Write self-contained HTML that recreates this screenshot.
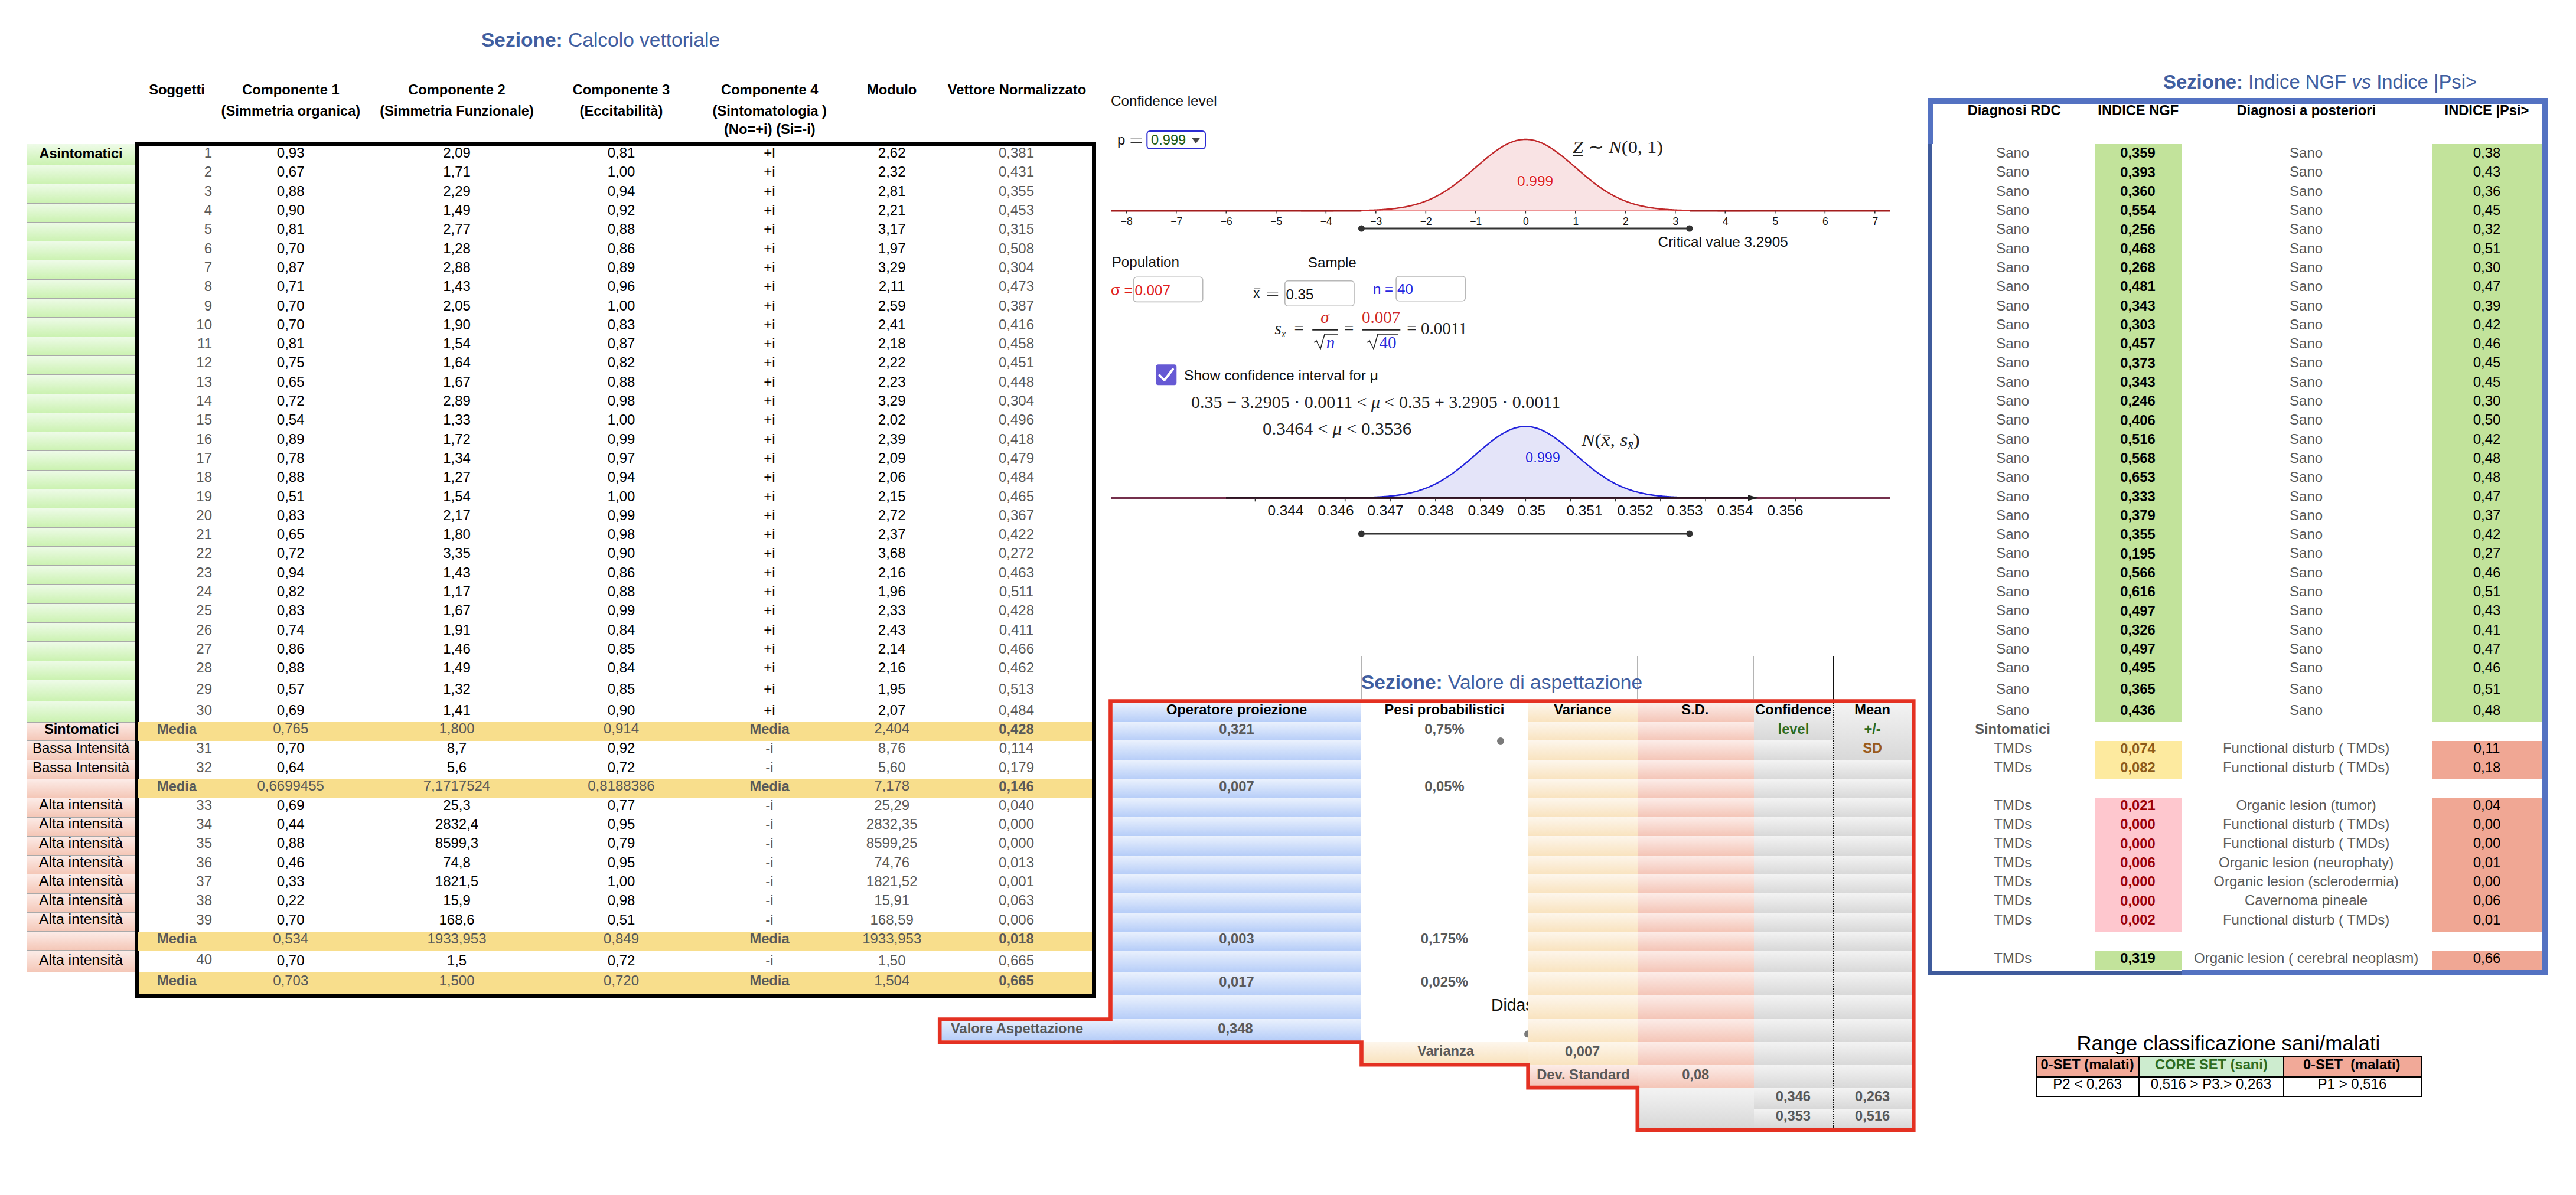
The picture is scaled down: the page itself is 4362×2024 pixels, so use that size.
<!DOCTYPE html>
<html><head><meta charset="utf-8"><style>
html,body{margin:0;padding:0;background:#fff;}
body{width:4362px;height:2024px;position:relative;overflow:hidden;font-family:'Liberation Sans', sans-serif;}
.t{position:absolute;white-space:nowrap;}
.r{position:absolute;}
svg{position:absolute;left:0;top:0;}
</style></head><body>
<div class="t" style="left:815px;top:50.5px;font-size:33.5px;line-height:33.5px;color:#405ea0;"><b>Sezione:</b> Calcolo vettoriale</div>
<div class="r" style="left:46px;top:244px;width:183px;height:35px;background:linear-gradient(to bottom,#eefbe8,#cbf2b1);"></div>
<div class="r" style="left:46px;top:279px;width:183px;height:33px;background:linear-gradient(to bottom,#eefbe8,#cbf2b1);"></div>
<div class="r" style="left:46px;top:279px;width:183px;height:1px;background:#a9a9a9;"></div>
<div class="r" style="left:46px;top:312px;width:183px;height:32px;background:linear-gradient(to bottom,#eefbe8,#cbf2b1);"></div>
<div class="r" style="left:46px;top:311px;width:183px;height:1px;background:#a9a9a9;"></div>
<div class="r" style="left:46px;top:344px;width:183px;height:32px;background:linear-gradient(to bottom,#eefbe8,#cbf2b1);"></div>
<div class="r" style="left:46px;top:344px;width:183px;height:1px;background:#a9a9a9;"></div>
<div class="r" style="left:46px;top:376px;width:183px;height:33px;background:linear-gradient(to bottom,#eefbe8,#cbf2b1);"></div>
<div class="r" style="left:46px;top:376px;width:183px;height:1px;background:#a9a9a9;"></div>
<div class="r" style="left:46px;top:409px;width:183px;height:32px;background:linear-gradient(to bottom,#eefbe8,#cbf2b1);"></div>
<div class="r" style="left:46px;top:408px;width:183px;height:1px;background:#a9a9a9;"></div>
<div class="r" style="left:46px;top:441px;width:183px;height:32px;background:linear-gradient(to bottom,#eefbe8,#cbf2b1);"></div>
<div class="r" style="left:46px;top:440px;width:183px;height:1px;background:#a9a9a9;"></div>
<div class="r" style="left:46px;top:473px;width:183px;height:32px;background:linear-gradient(to bottom,#eefbe8,#cbf2b1);"></div>
<div class="r" style="left:46px;top:473px;width:183px;height:1px;background:#a9a9a9;"></div>
<div class="r" style="left:46px;top:505px;width:183px;height:33px;background:linear-gradient(to bottom,#eefbe8,#cbf2b1);"></div>
<div class="r" style="left:46px;top:505px;width:183px;height:1px;background:#a9a9a9;"></div>
<div class="r" style="left:46px;top:538px;width:183px;height:32px;background:linear-gradient(to bottom,#eefbe8,#cbf2b1);"></div>
<div class="r" style="left:46px;top:537px;width:183px;height:1px;background:#a9a9a9;"></div>
<div class="r" style="left:46px;top:570px;width:183px;height:32px;background:linear-gradient(to bottom,#eefbe8,#cbf2b1);"></div>
<div class="r" style="left:46px;top:570px;width:183px;height:1px;background:#a9a9a9;"></div>
<div class="r" style="left:46px;top:602px;width:183px;height:33px;background:linear-gradient(to bottom,#eefbe8,#cbf2b1);"></div>
<div class="r" style="left:46px;top:602px;width:183px;height:1px;background:#a9a9a9;"></div>
<div class="r" style="left:46px;top:635px;width:183px;height:32px;background:linear-gradient(to bottom,#eefbe8,#cbf2b1);"></div>
<div class="r" style="left:46px;top:634px;width:183px;height:1px;background:#a9a9a9;"></div>
<div class="r" style="left:46px;top:667px;width:183px;height:32px;background:linear-gradient(to bottom,#eefbe8,#cbf2b1);"></div>
<div class="r" style="left:46px;top:667px;width:183px;height:1px;background:#a9a9a9;"></div>
<div class="r" style="left:46px;top:699px;width:183px;height:33px;background:linear-gradient(to bottom,#eefbe8,#cbf2b1);"></div>
<div class="r" style="left:46px;top:699px;width:183px;height:1px;background:#a9a9a9;"></div>
<div class="r" style="left:46px;top:732px;width:183px;height:32px;background:linear-gradient(to bottom,#eefbe8,#cbf2b1);"></div>
<div class="r" style="left:46px;top:731px;width:183px;height:1px;background:#a9a9a9;"></div>
<div class="r" style="left:46px;top:764px;width:183px;height:32px;background:linear-gradient(to bottom,#eefbe8,#cbf2b1);"></div>
<div class="r" style="left:46px;top:763px;width:183px;height:1px;background:#a9a9a9;"></div>
<div class="r" style="left:46px;top:796px;width:183px;height:32px;background:linear-gradient(to bottom,#eefbe8,#cbf2b1);"></div>
<div class="r" style="left:46px;top:796px;width:183px;height:1px;background:#a9a9a9;"></div>
<div class="r" style="left:46px;top:828px;width:183px;height:33px;background:linear-gradient(to bottom,#eefbe8,#cbf2b1);"></div>
<div class="r" style="left:46px;top:828px;width:183px;height:1px;background:#a9a9a9;"></div>
<div class="r" style="left:46px;top:861px;width:183px;height:32px;background:linear-gradient(to bottom,#eefbe8,#cbf2b1);"></div>
<div class="r" style="left:46px;top:860px;width:183px;height:1px;background:#a9a9a9;"></div>
<div class="r" style="left:46px;top:893px;width:183px;height:32px;background:linear-gradient(to bottom,#eefbe8,#cbf2b1);"></div>
<div class="r" style="left:46px;top:893px;width:183px;height:1px;background:#a9a9a9;"></div>
<div class="r" style="left:46px;top:925px;width:183px;height:33px;background:linear-gradient(to bottom,#eefbe8,#cbf2b1);"></div>
<div class="r" style="left:46px;top:925px;width:183px;height:1px;background:#a9a9a9;"></div>
<div class="r" style="left:46px;top:958px;width:183px;height:32px;background:linear-gradient(to bottom,#eefbe8,#cbf2b1);"></div>
<div class="r" style="left:46px;top:957px;width:183px;height:1px;background:#a9a9a9;"></div>
<div class="r" style="left:46px;top:990px;width:183px;height:32px;background:linear-gradient(to bottom,#eefbe8,#cbf2b1);"></div>
<div class="r" style="left:46px;top:989px;width:183px;height:1px;background:#a9a9a9;"></div>
<div class="r" style="left:46px;top:1022px;width:183px;height:33px;background:linear-gradient(to bottom,#eefbe8,#cbf2b1);"></div>
<div class="r" style="left:46px;top:1022px;width:183px;height:1px;background:#a9a9a9;"></div>
<div class="r" style="left:46px;top:1055px;width:183px;height:32px;background:linear-gradient(to bottom,#eefbe8,#cbf2b1);"></div>
<div class="r" style="left:46px;top:1054px;width:183px;height:1px;background:#a9a9a9;"></div>
<div class="r" style="left:46px;top:1087px;width:183px;height:32px;background:linear-gradient(to bottom,#eefbe8,#cbf2b1);"></div>
<div class="r" style="left:46px;top:1086px;width:183px;height:1px;background:#a9a9a9;"></div>
<div class="r" style="left:46px;top:1119px;width:183px;height:32px;background:linear-gradient(to bottom,#eefbe8,#cbf2b1);"></div>
<div class="r" style="left:46px;top:1119px;width:183px;height:1px;background:#a9a9a9;"></div>
<div class="r" style="left:46px;top:1152px;width:183px;height:35px;background:linear-gradient(to bottom,#eefbe8,#cbf2b1);"></div>
<div class="r" style="left:46px;top:1151px;width:183px;height:1px;background:#a9a9a9;"></div>
<div class="r" style="left:46px;top:1187px;width:183px;height:36px;background:linear-gradient(to bottom,#eefbe8,#cbf2b1);"></div>
<div class="r" style="left:46px;top:1187px;width:183px;height:1px;background:#a9a9a9;"></div>
<div class="r" style="left:46px;top:1223px;width:187px;height:32px;background:linear-gradient(to bottom,#fcece8,#f4c6b6);"></div>
<div class="r" style="left:46px;top:1223px;width:187px;height:1px;background:#a9a9a9;"></div>
<div class="r" style="left:46px;top:1254px;width:183px;height:34px;background:linear-gradient(to bottom,#fcece8,#f4c6b6);"></div>
<div class="r" style="left:46px;top:1254px;width:183px;height:1px;background:#a9a9a9;"></div>
<div class="r" style="left:46px;top:1288px;width:183px;height:32px;background:linear-gradient(to bottom,#fcece8,#f4c6b6);"></div>
<div class="r" style="left:46px;top:1287px;width:183px;height:1px;background:#a9a9a9;"></div>
<div class="r" style="left:46px;top:1320px;width:187px;height:32px;background:linear-gradient(to bottom,#fcece8,#f4c6b6);"></div>
<div class="r" style="left:46px;top:1319px;width:187px;height:1px;background:#a9a9a9;"></div>
<div class="r" style="left:46px;top:1352px;width:183px;height:32px;background:linear-gradient(to bottom,#fcece8,#f4c6b6);"></div>
<div class="r" style="left:46px;top:1351px;width:183px;height:1px;background:#a9a9a9;"></div>
<div class="r" style="left:46px;top:1384px;width:183px;height:32px;background:linear-gradient(to bottom,#fcece8,#f4c6b6);"></div>
<div class="r" style="left:46px;top:1384px;width:183px;height:1px;background:#a9a9a9;"></div>
<div class="r" style="left:46px;top:1416px;width:183px;height:33px;background:linear-gradient(to bottom,#fcece8,#f4c6b6);"></div>
<div class="r" style="left:46px;top:1416px;width:183px;height:1px;background:#a9a9a9;"></div>
<div class="r" style="left:46px;top:1449px;width:183px;height:32px;background:linear-gradient(to bottom,#fcece8,#f4c6b6);"></div>
<div class="r" style="left:46px;top:1448px;width:183px;height:1px;background:#a9a9a9;"></div>
<div class="r" style="left:46px;top:1481px;width:183px;height:32px;background:linear-gradient(to bottom,#fcece8,#f4c6b6);"></div>
<div class="r" style="left:46px;top:1480px;width:183px;height:1px;background:#a9a9a9;"></div>
<div class="r" style="left:46px;top:1513px;width:183px;height:33px;background:linear-gradient(to bottom,#fcece8,#f4c6b6);"></div>
<div class="r" style="left:46px;top:1513px;width:183px;height:1px;background:#a9a9a9;"></div>
<div class="r" style="left:46px;top:1546px;width:183px;height:32px;background:linear-gradient(to bottom,#fcece8,#f4c6b6);"></div>
<div class="r" style="left:46px;top:1545px;width:183px;height:1px;background:#a9a9a9;"></div>
<div class="r" style="left:46px;top:1578px;width:187px;height:32px;background:linear-gradient(to bottom,#fcece8,#f4c6b6);"></div>
<div class="r" style="left:46px;top:1577px;width:187px;height:1px;background:#a9a9a9;"></div>
<div class="r" style="left:46px;top:1610px;width:183px;height:37px;background:linear-gradient(to bottom,#fcece8,#f4c6b6);"></div>
<div class="r" style="left:46px;top:1609px;width:183px;height:1px;background:#a9a9a9;"></div>
<div class="t" style="left:-463.0px;top:248.5px;width:1200px;font-size:23.5px;line-height:23.5px;text-align:center;color:#000;font-weight:bold;">Asintomatici</div>
<div class="t" style="left:-461.5px;top:1223.7px;width:1200px;font-size:23.5px;line-height:23.5px;text-align:center;color:#000;font-weight:bold;">Sintomatici</div>
<div class="t" style="left:-463.0px;top:1255.4px;width:1200px;font-size:24px;line-height:24px;text-align:center;color:#000;">Bassa Intensità</div>
<div class="t" style="left:-463.0px;top:1287.5px;width:1200px;font-size:24px;line-height:24px;text-align:center;color:#000;">Bassa Intensità</div>
<div class="t" style="left:-463.0px;top:1351.1px;width:1200px;font-size:24.8px;line-height:24.8px;text-align:center;color:#000;">Alta intensità</div>
<div class="t" style="left:-463.0px;top:1383.4px;width:1200px;font-size:24.8px;line-height:24.8px;text-align:center;color:#000;">Alta intensità</div>
<div class="t" style="left:-463.0px;top:1415.7px;width:1200px;font-size:24.8px;line-height:24.8px;text-align:center;color:#000;">Alta intensità</div>
<div class="t" style="left:-463.0px;top:1448.0px;width:1200px;font-size:24.8px;line-height:24.8px;text-align:center;color:#000;">Alta intensità</div>
<div class="t" style="left:-463.0px;top:1480.3px;width:1200px;font-size:24.8px;line-height:24.8px;text-align:center;color:#000;">Alta intensità</div>
<div class="t" style="left:-463.0px;top:1512.6px;width:1200px;font-size:24.8px;line-height:24.8px;text-align:center;color:#000;">Alta intensità</div>
<div class="t" style="left:-463.0px;top:1544.9px;width:1200px;font-size:24.8px;line-height:24.8px;text-align:center;color:#000;">Alta intensità</div>
<div class="t" style="left:-463.0px;top:1613.8px;width:1200px;font-size:24.8px;line-height:24.8px;text-align:center;color:#000;">Alta intensità</div>
<div class="r" style="left:233px;top:1223px;width:1617px;height:32px;background:#f8de8c;"></div>
<div class="r" style="left:233px;top:1320px;width:1617px;height:32px;background:#f8de8c;"></div>
<div class="r" style="left:233px;top:1578px;width:1617px;height:32px;background:#f8de8c;"></div>
<div class="r" style="left:236px;top:1647px;width:1613px;height:37px;background:#f8de8c;"></div>
<div class="r" style="left:229px;top:240px;width:1627px;height:1451px;box-sizing:border-box;border:7px solid #000;background:transparent;"></div>
<div class="r" style="left:233px;top:1223px;width:3px;height:32px;background:#f8de8c;"></div>
<div class="r" style="left:233px;top:1320px;width:3px;height:32px;background:#f8de8c;"></div>
<div class="r" style="left:233px;top:1578px;width:3px;height:32px;background:#f8de8c;"></div>
<div class="t" style="left:-300.5px;top:141.1px;width:1200px;font-size:23.7px;line-height:23.7px;text-align:center;color:#000;font-weight:bold;">Soggetti</div>
<div class="t" style="left:-107.6px;top:141.1px;width:1200px;font-size:23.7px;line-height:23.7px;text-align:center;color:#000;font-weight:bold;">Componente 1</div>
<div class="t" style="left:-107.6px;top:176.7px;width:1200px;font-size:23.7px;line-height:23.7px;text-align:center;color:#000;font-weight:bold;">(Simmetria organica)</div>
<div class="t" style="left:173.5px;top:141.1px;width:1200px;font-size:23.7px;line-height:23.7px;text-align:center;color:#000;font-weight:bold;">Componente 2</div>
<div class="t" style="left:173.5px;top:176.7px;width:1200px;font-size:23.7px;line-height:23.7px;text-align:center;color:#000;font-weight:bold;">(Simmetria Funzionale)</div>
<div class="t" style="left:452.0px;top:141.1px;width:1200px;font-size:23.7px;line-height:23.7px;text-align:center;color:#000;font-weight:bold;">Componente 3</div>
<div class="t" style="left:452.0px;top:176.7px;width:1200px;font-size:23.7px;line-height:23.7px;text-align:center;color:#000;font-weight:bold;">(Eccitabilità)</div>
<div class="t" style="left:703.3px;top:141.1px;width:1200px;font-size:23.7px;line-height:23.7px;text-align:center;color:#000;font-weight:bold;">Componente 4</div>
<div class="t" style="left:703.3px;top:176.7px;width:1200px;font-size:23.7px;line-height:23.7px;text-align:center;color:#000;font-weight:bold;">(Sintomatologia )</div>
<div class="t" style="left:703.3px;top:208.0px;width:1200px;font-size:23.7px;line-height:23.7px;text-align:center;color:#000;font-weight:bold;">(No=+i) (Si=-i)</div>
<div class="t" style="left:910.2px;top:141.1px;width:1200px;font-size:23.7px;line-height:23.7px;text-align:center;color:#000;font-weight:bold;">Modulo</div>
<div class="t" style="left:1122.0px;top:141.1px;width:1200px;font-size:23.7px;line-height:23.7px;text-align:center;color:#000;font-weight:bold;">Vettore Normalizzato</div>
<div class="t" style="left:-841.0px;top:247.1px;width:1200px;font-size:24px;line-height:24px;text-align:right;color:#595959;">1</div>
<div class="t" style="left:-107.8px;top:247.1px;width:1200px;font-size:24px;line-height:24px;text-align:center;color:#000;">0,93</div>
<div class="t" style="left:173.5px;top:247.1px;width:1200px;font-size:24px;line-height:24px;text-align:center;color:#000;">2,09</div>
<div class="t" style="left:452.0px;top:247.1px;width:1200px;font-size:24px;line-height:24px;text-align:center;color:#000;">0,81</div>
<div class="t" style="left:703.0px;top:247.1px;width:1200px;font-size:24px;line-height:24px;text-align:center;color:#000;">+l</div>
<div class="t" style="left:910.2px;top:247.1px;width:1200px;font-size:24px;line-height:24px;text-align:center;color:#000;">2,62</div>
<div class="t" style="left:1121.0px;top:247.1px;width:1200px;font-size:24px;line-height:24px;text-align:center;color:#595959;">0,381</div>
<div class="t" style="left:-841.0px;top:279.4px;width:1200px;font-size:24px;line-height:24px;text-align:right;color:#595959;">2</div>
<div class="t" style="left:-107.8px;top:279.4px;width:1200px;font-size:24px;line-height:24px;text-align:center;color:#000;">0,67</div>
<div class="t" style="left:173.5px;top:279.4px;width:1200px;font-size:24px;line-height:24px;text-align:center;color:#000;">1,71</div>
<div class="t" style="left:452.0px;top:279.4px;width:1200px;font-size:24px;line-height:24px;text-align:center;color:#000;">1,00</div>
<div class="t" style="left:703.0px;top:279.4px;width:1200px;font-size:24px;line-height:24px;text-align:center;color:#000;">+i</div>
<div class="t" style="left:910.2px;top:279.4px;width:1200px;font-size:24px;line-height:24px;text-align:center;color:#000;">2,32</div>
<div class="t" style="left:1121.0px;top:279.4px;width:1200px;font-size:24px;line-height:24px;text-align:center;color:#595959;">0,431</div>
<div class="t" style="left:-841.0px;top:311.7px;width:1200px;font-size:24px;line-height:24px;text-align:right;color:#595959;">3</div>
<div class="t" style="left:-107.8px;top:311.7px;width:1200px;font-size:24px;line-height:24px;text-align:center;color:#000;">0,88</div>
<div class="t" style="left:173.5px;top:311.7px;width:1200px;font-size:24px;line-height:24px;text-align:center;color:#000;">2,29</div>
<div class="t" style="left:452.0px;top:311.7px;width:1200px;font-size:24px;line-height:24px;text-align:center;color:#000;">0,94</div>
<div class="t" style="left:703.0px;top:311.7px;width:1200px;font-size:24px;line-height:24px;text-align:center;color:#000;">+i</div>
<div class="t" style="left:910.2px;top:311.7px;width:1200px;font-size:24px;line-height:24px;text-align:center;color:#000;">2,81</div>
<div class="t" style="left:1121.0px;top:311.7px;width:1200px;font-size:24px;line-height:24px;text-align:center;color:#595959;">0,355</div>
<div class="t" style="left:-841.0px;top:344.0px;width:1200px;font-size:24px;line-height:24px;text-align:right;color:#595959;">4</div>
<div class="t" style="left:-107.8px;top:344.0px;width:1200px;font-size:24px;line-height:24px;text-align:center;color:#000;">0,90</div>
<div class="t" style="left:173.5px;top:344.0px;width:1200px;font-size:24px;line-height:24px;text-align:center;color:#000;">1,49</div>
<div class="t" style="left:452.0px;top:344.0px;width:1200px;font-size:24px;line-height:24px;text-align:center;color:#000;">0,92</div>
<div class="t" style="left:703.0px;top:344.0px;width:1200px;font-size:24px;line-height:24px;text-align:center;color:#000;">+i</div>
<div class="t" style="left:910.2px;top:344.0px;width:1200px;font-size:24px;line-height:24px;text-align:center;color:#000;">2,21</div>
<div class="t" style="left:1121.0px;top:344.0px;width:1200px;font-size:24px;line-height:24px;text-align:center;color:#595959;">0,453</div>
<div class="t" style="left:-841.0px;top:376.3px;width:1200px;font-size:24px;line-height:24px;text-align:right;color:#595959;">5</div>
<div class="t" style="left:-107.8px;top:376.3px;width:1200px;font-size:24px;line-height:24px;text-align:center;color:#000;">0,81</div>
<div class="t" style="left:173.5px;top:376.3px;width:1200px;font-size:24px;line-height:24px;text-align:center;color:#000;">2,77</div>
<div class="t" style="left:452.0px;top:376.3px;width:1200px;font-size:24px;line-height:24px;text-align:center;color:#000;">0,88</div>
<div class="t" style="left:703.0px;top:376.3px;width:1200px;font-size:24px;line-height:24px;text-align:center;color:#000;">+i</div>
<div class="t" style="left:910.2px;top:376.3px;width:1200px;font-size:24px;line-height:24px;text-align:center;color:#000;">3,17</div>
<div class="t" style="left:1121.0px;top:376.3px;width:1200px;font-size:24px;line-height:24px;text-align:center;color:#595959;">0,315</div>
<div class="t" style="left:-841.0px;top:408.6px;width:1200px;font-size:24px;line-height:24px;text-align:right;color:#595959;">6</div>
<div class="t" style="left:-107.8px;top:408.6px;width:1200px;font-size:24px;line-height:24px;text-align:center;color:#000;">0,70</div>
<div class="t" style="left:173.5px;top:408.6px;width:1200px;font-size:24px;line-height:24px;text-align:center;color:#000;">1,28</div>
<div class="t" style="left:452.0px;top:408.6px;width:1200px;font-size:24px;line-height:24px;text-align:center;color:#000;">0,86</div>
<div class="t" style="left:703.0px;top:408.6px;width:1200px;font-size:24px;line-height:24px;text-align:center;color:#000;">+i</div>
<div class="t" style="left:910.2px;top:408.6px;width:1200px;font-size:24px;line-height:24px;text-align:center;color:#000;">1,97</div>
<div class="t" style="left:1121.0px;top:408.6px;width:1200px;font-size:24px;line-height:24px;text-align:center;color:#595959;">0,508</div>
<div class="t" style="left:-841.0px;top:440.9px;width:1200px;font-size:24px;line-height:24px;text-align:right;color:#595959;">7</div>
<div class="t" style="left:-107.8px;top:440.9px;width:1200px;font-size:24px;line-height:24px;text-align:center;color:#000;">0,87</div>
<div class="t" style="left:173.5px;top:440.9px;width:1200px;font-size:24px;line-height:24px;text-align:center;color:#000;">2,88</div>
<div class="t" style="left:452.0px;top:440.9px;width:1200px;font-size:24px;line-height:24px;text-align:center;color:#000;">0,89</div>
<div class="t" style="left:703.0px;top:440.9px;width:1200px;font-size:24px;line-height:24px;text-align:center;color:#000;">+i</div>
<div class="t" style="left:910.2px;top:440.9px;width:1200px;font-size:24px;line-height:24px;text-align:center;color:#000;">3,29</div>
<div class="t" style="left:1121.0px;top:440.9px;width:1200px;font-size:24px;line-height:24px;text-align:center;color:#595959;">0,304</div>
<div class="t" style="left:-841.0px;top:473.2px;width:1200px;font-size:24px;line-height:24px;text-align:right;color:#595959;">8</div>
<div class="t" style="left:-107.8px;top:473.2px;width:1200px;font-size:24px;line-height:24px;text-align:center;color:#000;">0,71</div>
<div class="t" style="left:173.5px;top:473.2px;width:1200px;font-size:24px;line-height:24px;text-align:center;color:#000;">1,43</div>
<div class="t" style="left:452.0px;top:473.2px;width:1200px;font-size:24px;line-height:24px;text-align:center;color:#000;">0,96</div>
<div class="t" style="left:703.0px;top:473.2px;width:1200px;font-size:24px;line-height:24px;text-align:center;color:#000;">+i</div>
<div class="t" style="left:910.2px;top:473.2px;width:1200px;font-size:24px;line-height:24px;text-align:center;color:#000;">2,11</div>
<div class="t" style="left:1121.0px;top:473.2px;width:1200px;font-size:24px;line-height:24px;text-align:center;color:#595959;">0,473</div>
<div class="t" style="left:-841.0px;top:505.5px;width:1200px;font-size:24px;line-height:24px;text-align:right;color:#595959;">9</div>
<div class="t" style="left:-107.8px;top:505.5px;width:1200px;font-size:24px;line-height:24px;text-align:center;color:#000;">0,70</div>
<div class="t" style="left:173.5px;top:505.5px;width:1200px;font-size:24px;line-height:24px;text-align:center;color:#000;">2,05</div>
<div class="t" style="left:452.0px;top:505.5px;width:1200px;font-size:24px;line-height:24px;text-align:center;color:#000;">1,00</div>
<div class="t" style="left:703.0px;top:505.5px;width:1200px;font-size:24px;line-height:24px;text-align:center;color:#000;">+i</div>
<div class="t" style="left:910.2px;top:505.5px;width:1200px;font-size:24px;line-height:24px;text-align:center;color:#000;">2,59</div>
<div class="t" style="left:1121.0px;top:505.5px;width:1200px;font-size:24px;line-height:24px;text-align:center;color:#595959;">0,387</div>
<div class="t" style="left:-841.0px;top:537.8px;width:1200px;font-size:24px;line-height:24px;text-align:right;color:#595959;">10</div>
<div class="t" style="left:-107.8px;top:537.8px;width:1200px;font-size:24px;line-height:24px;text-align:center;color:#000;">0,70</div>
<div class="t" style="left:173.5px;top:537.8px;width:1200px;font-size:24px;line-height:24px;text-align:center;color:#000;">1,90</div>
<div class="t" style="left:452.0px;top:537.8px;width:1200px;font-size:24px;line-height:24px;text-align:center;color:#000;">0,83</div>
<div class="t" style="left:703.0px;top:537.8px;width:1200px;font-size:24px;line-height:24px;text-align:center;color:#000;">+i</div>
<div class="t" style="left:910.2px;top:537.8px;width:1200px;font-size:24px;line-height:24px;text-align:center;color:#000;">2,41</div>
<div class="t" style="left:1121.0px;top:537.8px;width:1200px;font-size:24px;line-height:24px;text-align:center;color:#595959;">0,416</div>
<div class="t" style="left:-841.0px;top:570.1px;width:1200px;font-size:24px;line-height:24px;text-align:right;color:#595959;">11</div>
<div class="t" style="left:-107.8px;top:570.1px;width:1200px;font-size:24px;line-height:24px;text-align:center;color:#000;">0,81</div>
<div class="t" style="left:173.5px;top:570.1px;width:1200px;font-size:24px;line-height:24px;text-align:center;color:#000;">1,54</div>
<div class="t" style="left:452.0px;top:570.1px;width:1200px;font-size:24px;line-height:24px;text-align:center;color:#000;">0,87</div>
<div class="t" style="left:703.0px;top:570.1px;width:1200px;font-size:24px;line-height:24px;text-align:center;color:#000;">+i</div>
<div class="t" style="left:910.2px;top:570.1px;width:1200px;font-size:24px;line-height:24px;text-align:center;color:#000;">2,18</div>
<div class="t" style="left:1121.0px;top:570.1px;width:1200px;font-size:24px;line-height:24px;text-align:center;color:#595959;">0,458</div>
<div class="t" style="left:-841.0px;top:602.4px;width:1200px;font-size:24px;line-height:24px;text-align:right;color:#595959;">12</div>
<div class="t" style="left:-107.8px;top:602.4px;width:1200px;font-size:24px;line-height:24px;text-align:center;color:#000;">0,75</div>
<div class="t" style="left:173.5px;top:602.4px;width:1200px;font-size:24px;line-height:24px;text-align:center;color:#000;">1,64</div>
<div class="t" style="left:452.0px;top:602.4px;width:1200px;font-size:24px;line-height:24px;text-align:center;color:#000;">0,82</div>
<div class="t" style="left:703.0px;top:602.4px;width:1200px;font-size:24px;line-height:24px;text-align:center;color:#000;">+i</div>
<div class="t" style="left:910.2px;top:602.4px;width:1200px;font-size:24px;line-height:24px;text-align:center;color:#000;">2,22</div>
<div class="t" style="left:1121.0px;top:602.4px;width:1200px;font-size:24px;line-height:24px;text-align:center;color:#595959;">0,451</div>
<div class="t" style="left:-841.0px;top:634.7px;width:1200px;font-size:24px;line-height:24px;text-align:right;color:#595959;">13</div>
<div class="t" style="left:-107.8px;top:634.7px;width:1200px;font-size:24px;line-height:24px;text-align:center;color:#000;">0,65</div>
<div class="t" style="left:173.5px;top:634.7px;width:1200px;font-size:24px;line-height:24px;text-align:center;color:#000;">1,67</div>
<div class="t" style="left:452.0px;top:634.7px;width:1200px;font-size:24px;line-height:24px;text-align:center;color:#000;">0,88</div>
<div class="t" style="left:703.0px;top:634.7px;width:1200px;font-size:24px;line-height:24px;text-align:center;color:#000;">+i</div>
<div class="t" style="left:910.2px;top:634.7px;width:1200px;font-size:24px;line-height:24px;text-align:center;color:#000;">2,23</div>
<div class="t" style="left:1121.0px;top:634.7px;width:1200px;font-size:24px;line-height:24px;text-align:center;color:#595959;">0,448</div>
<div class="t" style="left:-841.0px;top:667.0px;width:1200px;font-size:24px;line-height:24px;text-align:right;color:#595959;">14</div>
<div class="t" style="left:-107.8px;top:667.0px;width:1200px;font-size:24px;line-height:24px;text-align:center;color:#000;">0,72</div>
<div class="t" style="left:173.5px;top:667.0px;width:1200px;font-size:24px;line-height:24px;text-align:center;color:#000;">2,89</div>
<div class="t" style="left:452.0px;top:667.0px;width:1200px;font-size:24px;line-height:24px;text-align:center;color:#000;">0,98</div>
<div class="t" style="left:703.0px;top:667.0px;width:1200px;font-size:24px;line-height:24px;text-align:center;color:#000;">+i</div>
<div class="t" style="left:910.2px;top:667.0px;width:1200px;font-size:24px;line-height:24px;text-align:center;color:#000;">3,29</div>
<div class="t" style="left:1121.0px;top:667.0px;width:1200px;font-size:24px;line-height:24px;text-align:center;color:#595959;">0,304</div>
<div class="t" style="left:-841.0px;top:699.3px;width:1200px;font-size:24px;line-height:24px;text-align:right;color:#595959;">15</div>
<div class="t" style="left:-107.8px;top:699.3px;width:1200px;font-size:24px;line-height:24px;text-align:center;color:#000;">0,54</div>
<div class="t" style="left:173.5px;top:699.3px;width:1200px;font-size:24px;line-height:24px;text-align:center;color:#000;">1,33</div>
<div class="t" style="left:452.0px;top:699.3px;width:1200px;font-size:24px;line-height:24px;text-align:center;color:#000;">1,00</div>
<div class="t" style="left:703.0px;top:699.3px;width:1200px;font-size:24px;line-height:24px;text-align:center;color:#000;">+i</div>
<div class="t" style="left:910.2px;top:699.3px;width:1200px;font-size:24px;line-height:24px;text-align:center;color:#000;">2,02</div>
<div class="t" style="left:1121.0px;top:699.3px;width:1200px;font-size:24px;line-height:24px;text-align:center;color:#595959;">0,496</div>
<div class="t" style="left:-841.0px;top:731.6px;width:1200px;font-size:24px;line-height:24px;text-align:right;color:#595959;">16</div>
<div class="t" style="left:-107.8px;top:731.6px;width:1200px;font-size:24px;line-height:24px;text-align:center;color:#000;">0,89</div>
<div class="t" style="left:173.5px;top:731.6px;width:1200px;font-size:24px;line-height:24px;text-align:center;color:#000;">1,72</div>
<div class="t" style="left:452.0px;top:731.6px;width:1200px;font-size:24px;line-height:24px;text-align:center;color:#000;">0,99</div>
<div class="t" style="left:703.0px;top:731.6px;width:1200px;font-size:24px;line-height:24px;text-align:center;color:#000;">+i</div>
<div class="t" style="left:910.2px;top:731.6px;width:1200px;font-size:24px;line-height:24px;text-align:center;color:#000;">2,39</div>
<div class="t" style="left:1121.0px;top:731.6px;width:1200px;font-size:24px;line-height:24px;text-align:center;color:#595959;">0,418</div>
<div class="t" style="left:-841.0px;top:763.9px;width:1200px;font-size:24px;line-height:24px;text-align:right;color:#595959;">17</div>
<div class="t" style="left:-107.8px;top:763.9px;width:1200px;font-size:24px;line-height:24px;text-align:center;color:#000;">0,78</div>
<div class="t" style="left:173.5px;top:763.9px;width:1200px;font-size:24px;line-height:24px;text-align:center;color:#000;">1,34</div>
<div class="t" style="left:452.0px;top:763.9px;width:1200px;font-size:24px;line-height:24px;text-align:center;color:#000;">0,97</div>
<div class="t" style="left:703.0px;top:763.9px;width:1200px;font-size:24px;line-height:24px;text-align:center;color:#000;">+i</div>
<div class="t" style="left:910.2px;top:763.9px;width:1200px;font-size:24px;line-height:24px;text-align:center;color:#000;">2,09</div>
<div class="t" style="left:1121.0px;top:763.9px;width:1200px;font-size:24px;line-height:24px;text-align:center;color:#595959;">0,479</div>
<div class="t" style="left:-841.0px;top:796.2px;width:1200px;font-size:24px;line-height:24px;text-align:right;color:#595959;">18</div>
<div class="t" style="left:-107.8px;top:796.2px;width:1200px;font-size:24px;line-height:24px;text-align:center;color:#000;">0,88</div>
<div class="t" style="left:173.5px;top:796.2px;width:1200px;font-size:24px;line-height:24px;text-align:center;color:#000;">1,27</div>
<div class="t" style="left:452.0px;top:796.2px;width:1200px;font-size:24px;line-height:24px;text-align:center;color:#000;">0,94</div>
<div class="t" style="left:703.0px;top:796.2px;width:1200px;font-size:24px;line-height:24px;text-align:center;color:#000;">+i</div>
<div class="t" style="left:910.2px;top:796.2px;width:1200px;font-size:24px;line-height:24px;text-align:center;color:#000;">2,06</div>
<div class="t" style="left:1121.0px;top:796.2px;width:1200px;font-size:24px;line-height:24px;text-align:center;color:#595959;">0,484</div>
<div class="t" style="left:-841.0px;top:828.5px;width:1200px;font-size:24px;line-height:24px;text-align:right;color:#595959;">19</div>
<div class="t" style="left:-107.8px;top:828.5px;width:1200px;font-size:24px;line-height:24px;text-align:center;color:#000;">0,51</div>
<div class="t" style="left:173.5px;top:828.5px;width:1200px;font-size:24px;line-height:24px;text-align:center;color:#000;">1,54</div>
<div class="t" style="left:452.0px;top:828.5px;width:1200px;font-size:24px;line-height:24px;text-align:center;color:#000;">1,00</div>
<div class="t" style="left:703.0px;top:828.5px;width:1200px;font-size:24px;line-height:24px;text-align:center;color:#000;">+i</div>
<div class="t" style="left:910.2px;top:828.5px;width:1200px;font-size:24px;line-height:24px;text-align:center;color:#000;">2,15</div>
<div class="t" style="left:1121.0px;top:828.5px;width:1200px;font-size:24px;line-height:24px;text-align:center;color:#595959;">0,465</div>
<div class="t" style="left:-841.0px;top:860.8px;width:1200px;font-size:24px;line-height:24px;text-align:right;color:#595959;">20</div>
<div class="t" style="left:-107.8px;top:860.8px;width:1200px;font-size:24px;line-height:24px;text-align:center;color:#000;">0,83</div>
<div class="t" style="left:173.5px;top:860.8px;width:1200px;font-size:24px;line-height:24px;text-align:center;color:#000;">2,17</div>
<div class="t" style="left:452.0px;top:860.8px;width:1200px;font-size:24px;line-height:24px;text-align:center;color:#000;">0,99</div>
<div class="t" style="left:703.0px;top:860.8px;width:1200px;font-size:24px;line-height:24px;text-align:center;color:#000;">+i</div>
<div class="t" style="left:910.2px;top:860.8px;width:1200px;font-size:24px;line-height:24px;text-align:center;color:#000;">2,72</div>
<div class="t" style="left:1121.0px;top:860.8px;width:1200px;font-size:24px;line-height:24px;text-align:center;color:#595959;">0,367</div>
<div class="t" style="left:-841.0px;top:893.1px;width:1200px;font-size:24px;line-height:24px;text-align:right;color:#595959;">21</div>
<div class="t" style="left:-107.8px;top:893.1px;width:1200px;font-size:24px;line-height:24px;text-align:center;color:#000;">0,65</div>
<div class="t" style="left:173.5px;top:893.1px;width:1200px;font-size:24px;line-height:24px;text-align:center;color:#000;">1,80</div>
<div class="t" style="left:452.0px;top:893.1px;width:1200px;font-size:24px;line-height:24px;text-align:center;color:#000;">0,98</div>
<div class="t" style="left:703.0px;top:893.1px;width:1200px;font-size:24px;line-height:24px;text-align:center;color:#000;">+i</div>
<div class="t" style="left:910.2px;top:893.1px;width:1200px;font-size:24px;line-height:24px;text-align:center;color:#000;">2,37</div>
<div class="t" style="left:1121.0px;top:893.1px;width:1200px;font-size:24px;line-height:24px;text-align:center;color:#595959;">0,422</div>
<div class="t" style="left:-841.0px;top:925.4px;width:1200px;font-size:24px;line-height:24px;text-align:right;color:#595959;">22</div>
<div class="t" style="left:-107.8px;top:925.4px;width:1200px;font-size:24px;line-height:24px;text-align:center;color:#000;">0,72</div>
<div class="t" style="left:173.5px;top:925.4px;width:1200px;font-size:24px;line-height:24px;text-align:center;color:#000;">3,35</div>
<div class="t" style="left:452.0px;top:925.4px;width:1200px;font-size:24px;line-height:24px;text-align:center;color:#000;">0,90</div>
<div class="t" style="left:703.0px;top:925.4px;width:1200px;font-size:24px;line-height:24px;text-align:center;color:#000;">+i</div>
<div class="t" style="left:910.2px;top:925.4px;width:1200px;font-size:24px;line-height:24px;text-align:center;color:#000;">3,68</div>
<div class="t" style="left:1121.0px;top:925.4px;width:1200px;font-size:24px;line-height:24px;text-align:center;color:#595959;">0,272</div>
<div class="t" style="left:-841.0px;top:957.7px;width:1200px;font-size:24px;line-height:24px;text-align:right;color:#595959;">23</div>
<div class="t" style="left:-107.8px;top:957.7px;width:1200px;font-size:24px;line-height:24px;text-align:center;color:#000;">0,94</div>
<div class="t" style="left:173.5px;top:957.7px;width:1200px;font-size:24px;line-height:24px;text-align:center;color:#000;">1,43</div>
<div class="t" style="left:452.0px;top:957.7px;width:1200px;font-size:24px;line-height:24px;text-align:center;color:#000;">0,86</div>
<div class="t" style="left:703.0px;top:957.7px;width:1200px;font-size:24px;line-height:24px;text-align:center;color:#000;">+i</div>
<div class="t" style="left:910.2px;top:957.7px;width:1200px;font-size:24px;line-height:24px;text-align:center;color:#000;">2,16</div>
<div class="t" style="left:1121.0px;top:957.7px;width:1200px;font-size:24px;line-height:24px;text-align:center;color:#595959;">0,463</div>
<div class="t" style="left:-841.0px;top:990.0px;width:1200px;font-size:24px;line-height:24px;text-align:right;color:#595959;">24</div>
<div class="t" style="left:-107.8px;top:990.0px;width:1200px;font-size:24px;line-height:24px;text-align:center;color:#000;">0,82</div>
<div class="t" style="left:173.5px;top:990.0px;width:1200px;font-size:24px;line-height:24px;text-align:center;color:#000;">1,17</div>
<div class="t" style="left:452.0px;top:990.0px;width:1200px;font-size:24px;line-height:24px;text-align:center;color:#000;">0,88</div>
<div class="t" style="left:703.0px;top:990.0px;width:1200px;font-size:24px;line-height:24px;text-align:center;color:#000;">+i</div>
<div class="t" style="left:910.2px;top:990.0px;width:1200px;font-size:24px;line-height:24px;text-align:center;color:#000;">1,96</div>
<div class="t" style="left:1121.0px;top:990.0px;width:1200px;font-size:24px;line-height:24px;text-align:center;color:#595959;">0,511</div>
<div class="t" style="left:-841.0px;top:1022.3px;width:1200px;font-size:24px;line-height:24px;text-align:right;color:#595959;">25</div>
<div class="t" style="left:-107.8px;top:1022.3px;width:1200px;font-size:24px;line-height:24px;text-align:center;color:#000;">0,83</div>
<div class="t" style="left:173.5px;top:1022.3px;width:1200px;font-size:24px;line-height:24px;text-align:center;color:#000;">1,67</div>
<div class="t" style="left:452.0px;top:1022.3px;width:1200px;font-size:24px;line-height:24px;text-align:center;color:#000;">0,99</div>
<div class="t" style="left:703.0px;top:1022.3px;width:1200px;font-size:24px;line-height:24px;text-align:center;color:#000;">+i</div>
<div class="t" style="left:910.2px;top:1022.3px;width:1200px;font-size:24px;line-height:24px;text-align:center;color:#000;">2,33</div>
<div class="t" style="left:1121.0px;top:1022.3px;width:1200px;font-size:24px;line-height:24px;text-align:center;color:#595959;">0,428</div>
<div class="t" style="left:-841.0px;top:1054.6px;width:1200px;font-size:24px;line-height:24px;text-align:right;color:#595959;">26</div>
<div class="t" style="left:-107.8px;top:1054.6px;width:1200px;font-size:24px;line-height:24px;text-align:center;color:#000;">0,74</div>
<div class="t" style="left:173.5px;top:1054.6px;width:1200px;font-size:24px;line-height:24px;text-align:center;color:#000;">1,91</div>
<div class="t" style="left:452.0px;top:1054.6px;width:1200px;font-size:24px;line-height:24px;text-align:center;color:#000;">0,84</div>
<div class="t" style="left:703.0px;top:1054.6px;width:1200px;font-size:24px;line-height:24px;text-align:center;color:#000;">+i</div>
<div class="t" style="left:910.2px;top:1054.6px;width:1200px;font-size:24px;line-height:24px;text-align:center;color:#000;">2,43</div>
<div class="t" style="left:1121.0px;top:1054.6px;width:1200px;font-size:24px;line-height:24px;text-align:center;color:#595959;">0,411</div>
<div class="t" style="left:-841.0px;top:1086.9px;width:1200px;font-size:24px;line-height:24px;text-align:right;color:#595959;">27</div>
<div class="t" style="left:-107.8px;top:1086.9px;width:1200px;font-size:24px;line-height:24px;text-align:center;color:#000;">0,86</div>
<div class="t" style="left:173.5px;top:1086.9px;width:1200px;font-size:24px;line-height:24px;text-align:center;color:#000;">1,46</div>
<div class="t" style="left:452.0px;top:1086.9px;width:1200px;font-size:24px;line-height:24px;text-align:center;color:#000;">0,85</div>
<div class="t" style="left:703.0px;top:1086.9px;width:1200px;font-size:24px;line-height:24px;text-align:center;color:#000;">+i</div>
<div class="t" style="left:910.2px;top:1086.9px;width:1200px;font-size:24px;line-height:24px;text-align:center;color:#000;">2,14</div>
<div class="t" style="left:1121.0px;top:1086.9px;width:1200px;font-size:24px;line-height:24px;text-align:center;color:#595959;">0,466</div>
<div class="t" style="left:-841.0px;top:1119.2px;width:1200px;font-size:24px;line-height:24px;text-align:right;color:#595959;">28</div>
<div class="t" style="left:-107.8px;top:1119.2px;width:1200px;font-size:24px;line-height:24px;text-align:center;color:#000;">0,88</div>
<div class="t" style="left:173.5px;top:1119.2px;width:1200px;font-size:24px;line-height:24px;text-align:center;color:#000;">1,49</div>
<div class="t" style="left:452.0px;top:1119.2px;width:1200px;font-size:24px;line-height:24px;text-align:center;color:#000;">0,84</div>
<div class="t" style="left:703.0px;top:1119.2px;width:1200px;font-size:24px;line-height:24px;text-align:center;color:#000;">+i</div>
<div class="t" style="left:910.2px;top:1119.2px;width:1200px;font-size:24px;line-height:24px;text-align:center;color:#000;">2,16</div>
<div class="t" style="left:1121.0px;top:1119.2px;width:1200px;font-size:24px;line-height:24px;text-align:center;color:#595959;">0,462</div>
<div class="t" style="left:-841.0px;top:1154.7px;width:1200px;font-size:24px;line-height:24px;text-align:right;color:#595959;">29</div>
<div class="t" style="left:-107.8px;top:1154.7px;width:1200px;font-size:24px;line-height:24px;text-align:center;color:#000;">0,57</div>
<div class="t" style="left:173.5px;top:1154.7px;width:1200px;font-size:24px;line-height:24px;text-align:center;color:#000;">1,32</div>
<div class="t" style="left:452.0px;top:1154.7px;width:1200px;font-size:24px;line-height:24px;text-align:center;color:#000;">0,85</div>
<div class="t" style="left:703.0px;top:1154.7px;width:1200px;font-size:24px;line-height:24px;text-align:center;color:#000;">+i</div>
<div class="t" style="left:910.2px;top:1154.7px;width:1200px;font-size:24px;line-height:24px;text-align:center;color:#000;">1,95</div>
<div class="t" style="left:1121.0px;top:1154.7px;width:1200px;font-size:24px;line-height:24px;text-align:center;color:#595959;">0,513</div>
<div class="t" style="left:-841.0px;top:1190.7px;width:1200px;font-size:24px;line-height:24px;text-align:right;color:#595959;">30</div>
<div class="t" style="left:-107.8px;top:1190.7px;width:1200px;font-size:24px;line-height:24px;text-align:center;color:#000;">0,69</div>
<div class="t" style="left:173.5px;top:1190.7px;width:1200px;font-size:24px;line-height:24px;text-align:center;color:#000;">1,41</div>
<div class="t" style="left:452.0px;top:1190.7px;width:1200px;font-size:24px;line-height:24px;text-align:center;color:#000;">0,90</div>
<div class="t" style="left:703.0px;top:1190.7px;width:1200px;font-size:24px;line-height:24px;text-align:center;color:#000;">+i</div>
<div class="t" style="left:910.2px;top:1190.7px;width:1200px;font-size:24px;line-height:24px;text-align:center;color:#000;">2,07</div>
<div class="t" style="left:1121.0px;top:1190.7px;width:1200px;font-size:24px;line-height:24px;text-align:center;color:#595959;">0,484</div>
<div class="t" style="left:-841.0px;top:1255.4px;width:1200px;font-size:24px;line-height:24px;text-align:right;color:#595959;">31</div>
<div class="t" style="left:-107.8px;top:1255.4px;width:1200px;font-size:24px;line-height:24px;text-align:center;color:#000;">0,70</div>
<div class="t" style="left:173.5px;top:1255.4px;width:1200px;font-size:24px;line-height:24px;text-align:center;color:#000;">8,7</div>
<div class="t" style="left:452.0px;top:1255.4px;width:1200px;font-size:24px;line-height:24px;text-align:center;color:#000;">0,92</div>
<div class="t" style="left:703.0px;top:1255.4px;width:1200px;font-size:24px;line-height:24px;text-align:center;color:#595959;">-i</div>
<div class="t" style="left:910.2px;top:1255.4px;width:1200px;font-size:24px;line-height:24px;text-align:center;color:#595959;">8,76</div>
<div class="t" style="left:1121.0px;top:1255.4px;width:1200px;font-size:24px;line-height:24px;text-align:center;color:#595959;">0,114</div>
<div class="t" style="left:-841.0px;top:1287.5px;width:1200px;font-size:24px;line-height:24px;text-align:right;color:#595959;">32</div>
<div class="t" style="left:-107.8px;top:1287.5px;width:1200px;font-size:24px;line-height:24px;text-align:center;color:#000;">0,64</div>
<div class="t" style="left:173.5px;top:1287.5px;width:1200px;font-size:24px;line-height:24px;text-align:center;color:#000;">5,6</div>
<div class="t" style="left:452.0px;top:1287.5px;width:1200px;font-size:24px;line-height:24px;text-align:center;color:#000;">0,72</div>
<div class="t" style="left:703.0px;top:1287.5px;width:1200px;font-size:24px;line-height:24px;text-align:center;color:#595959;">-i</div>
<div class="t" style="left:910.2px;top:1287.5px;width:1200px;font-size:24px;line-height:24px;text-align:center;color:#595959;">5,60</div>
<div class="t" style="left:1121.0px;top:1287.5px;width:1200px;font-size:24px;line-height:24px;text-align:center;color:#595959;">0,179</div>
<div class="t" style="left:-841.0px;top:1351.8px;width:1200px;font-size:24px;line-height:24px;text-align:right;color:#595959;">33</div>
<div class="t" style="left:-107.8px;top:1351.8px;width:1200px;font-size:24px;line-height:24px;text-align:center;color:#000;">0,69</div>
<div class="t" style="left:173.5px;top:1351.8px;width:1200px;font-size:24px;line-height:24px;text-align:center;color:#000;">25,3</div>
<div class="t" style="left:452.0px;top:1351.8px;width:1200px;font-size:24px;line-height:24px;text-align:center;color:#000;">0,77</div>
<div class="t" style="left:703.0px;top:1351.8px;width:1200px;font-size:24px;line-height:24px;text-align:center;color:#595959;">-i</div>
<div class="t" style="left:910.2px;top:1351.8px;width:1200px;font-size:24px;line-height:24px;text-align:center;color:#595959;">25,29</div>
<div class="t" style="left:1121.0px;top:1351.8px;width:1200px;font-size:24px;line-height:24px;text-align:center;color:#595959;">0,040</div>
<div class="t" style="left:-841.0px;top:1384.1px;width:1200px;font-size:24px;line-height:24px;text-align:right;color:#595959;">34</div>
<div class="t" style="left:-107.8px;top:1384.1px;width:1200px;font-size:24px;line-height:24px;text-align:center;color:#000;">0,44</div>
<div class="t" style="left:173.5px;top:1384.1px;width:1200px;font-size:24px;line-height:24px;text-align:center;color:#000;">2832,4</div>
<div class="t" style="left:452.0px;top:1384.1px;width:1200px;font-size:24px;line-height:24px;text-align:center;color:#000;">0,95</div>
<div class="t" style="left:703.0px;top:1384.1px;width:1200px;font-size:24px;line-height:24px;text-align:center;color:#595959;">-i</div>
<div class="t" style="left:910.2px;top:1384.1px;width:1200px;font-size:24px;line-height:24px;text-align:center;color:#595959;">2832,35</div>
<div class="t" style="left:1121.0px;top:1384.1px;width:1200px;font-size:24px;line-height:24px;text-align:center;color:#595959;">0,000</div>
<div class="t" style="left:-841.0px;top:1416.4px;width:1200px;font-size:24px;line-height:24px;text-align:right;color:#595959;">35</div>
<div class="t" style="left:-107.8px;top:1416.4px;width:1200px;font-size:24px;line-height:24px;text-align:center;color:#000;">0,88</div>
<div class="t" style="left:173.5px;top:1416.4px;width:1200px;font-size:24px;line-height:24px;text-align:center;color:#000;">8599,3</div>
<div class="t" style="left:452.0px;top:1416.4px;width:1200px;font-size:24px;line-height:24px;text-align:center;color:#000;">0,79</div>
<div class="t" style="left:703.0px;top:1416.4px;width:1200px;font-size:24px;line-height:24px;text-align:center;color:#595959;">-i</div>
<div class="t" style="left:910.2px;top:1416.4px;width:1200px;font-size:24px;line-height:24px;text-align:center;color:#595959;">8599,25</div>
<div class="t" style="left:1121.0px;top:1416.4px;width:1200px;font-size:24px;line-height:24px;text-align:center;color:#595959;">0,000</div>
<div class="t" style="left:-841.0px;top:1448.7px;width:1200px;font-size:24px;line-height:24px;text-align:right;color:#595959;">36</div>
<div class="t" style="left:-107.8px;top:1448.7px;width:1200px;font-size:24px;line-height:24px;text-align:center;color:#000;">0,46</div>
<div class="t" style="left:173.5px;top:1448.7px;width:1200px;font-size:24px;line-height:24px;text-align:center;color:#000;">74,8</div>
<div class="t" style="left:452.0px;top:1448.7px;width:1200px;font-size:24px;line-height:24px;text-align:center;color:#000;">0,95</div>
<div class="t" style="left:703.0px;top:1448.7px;width:1200px;font-size:24px;line-height:24px;text-align:center;color:#595959;">-i</div>
<div class="t" style="left:910.2px;top:1448.7px;width:1200px;font-size:24px;line-height:24px;text-align:center;color:#595959;">74,76</div>
<div class="t" style="left:1121.0px;top:1448.7px;width:1200px;font-size:24px;line-height:24px;text-align:center;color:#595959;">0,013</div>
<div class="t" style="left:-841.0px;top:1481.0px;width:1200px;font-size:24px;line-height:24px;text-align:right;color:#595959;">37</div>
<div class="t" style="left:-107.8px;top:1481.0px;width:1200px;font-size:24px;line-height:24px;text-align:center;color:#000;">0,33</div>
<div class="t" style="left:173.5px;top:1481.0px;width:1200px;font-size:24px;line-height:24px;text-align:center;color:#000;">1821,5</div>
<div class="t" style="left:452.0px;top:1481.0px;width:1200px;font-size:24px;line-height:24px;text-align:center;color:#000;">1,00</div>
<div class="t" style="left:703.0px;top:1481.0px;width:1200px;font-size:24px;line-height:24px;text-align:center;color:#595959;">-i</div>
<div class="t" style="left:910.2px;top:1481.0px;width:1200px;font-size:24px;line-height:24px;text-align:center;color:#595959;">1821,52</div>
<div class="t" style="left:1121.0px;top:1481.0px;width:1200px;font-size:24px;line-height:24px;text-align:center;color:#595959;">0,001</div>
<div class="t" style="left:-841.0px;top:1513.3px;width:1200px;font-size:24px;line-height:24px;text-align:right;color:#595959;">38</div>
<div class="t" style="left:-107.8px;top:1513.3px;width:1200px;font-size:24px;line-height:24px;text-align:center;color:#000;">0,22</div>
<div class="t" style="left:173.5px;top:1513.3px;width:1200px;font-size:24px;line-height:24px;text-align:center;color:#000;">15,9</div>
<div class="t" style="left:452.0px;top:1513.3px;width:1200px;font-size:24px;line-height:24px;text-align:center;color:#000;">0,98</div>
<div class="t" style="left:703.0px;top:1513.3px;width:1200px;font-size:24px;line-height:24px;text-align:center;color:#595959;">-i</div>
<div class="t" style="left:910.2px;top:1513.3px;width:1200px;font-size:24px;line-height:24px;text-align:center;color:#595959;">15,91</div>
<div class="t" style="left:1121.0px;top:1513.3px;width:1200px;font-size:24px;line-height:24px;text-align:center;color:#595959;">0,063</div>
<div class="t" style="left:-841.0px;top:1545.6px;width:1200px;font-size:24px;line-height:24px;text-align:right;color:#595959;">39</div>
<div class="t" style="left:-107.8px;top:1545.6px;width:1200px;font-size:24px;line-height:24px;text-align:center;color:#000;">0,70</div>
<div class="t" style="left:173.5px;top:1545.6px;width:1200px;font-size:24px;line-height:24px;text-align:center;color:#000;">168,6</div>
<div class="t" style="left:452.0px;top:1545.6px;width:1200px;font-size:24px;line-height:24px;text-align:center;color:#000;">0,51</div>
<div class="t" style="left:703.0px;top:1545.6px;width:1200px;font-size:24px;line-height:24px;text-align:center;color:#595959;">-i</div>
<div class="t" style="left:910.2px;top:1545.6px;width:1200px;font-size:24px;line-height:24px;text-align:center;color:#595959;">168,59</div>
<div class="t" style="left:1121.0px;top:1545.6px;width:1200px;font-size:24px;line-height:24px;text-align:center;color:#595959;">0,006</div>
<div class="t" style="left:-841.0px;top:1613.0px;width:1200px;font-size:24px;line-height:24px;text-align:right;color:#595959;">40</div>
<div class="t" style="left:-107.8px;top:1614.5px;width:1200px;font-size:24px;line-height:24px;text-align:center;color:#000;">0,70</div>
<div class="t" style="left:173.5px;top:1614.5px;width:1200px;font-size:24px;line-height:24px;text-align:center;color:#000;">1,5</div>
<div class="t" style="left:452.0px;top:1614.5px;width:1200px;font-size:24px;line-height:24px;text-align:center;color:#000;">0,72</div>
<div class="t" style="left:703.0px;top:1614.5px;width:1200px;font-size:24px;line-height:24px;text-align:center;color:#595959;">-i</div>
<div class="t" style="left:910.2px;top:1614.5px;width:1200px;font-size:24px;line-height:24px;text-align:center;color:#595959;">1,50</div>
<div class="t" style="left:1121.0px;top:1614.5px;width:1200px;font-size:24px;line-height:24px;text-align:center;color:#595959;">0,665</div>
<div class="t" style="left:-300.5px;top:1223.5px;width:1200px;font-size:23.7px;line-height:23.7px;text-align:center;color:#595959;font-weight:bold;">Media</div>
<div class="t" style="left:-107.8px;top:1222.3px;width:1200px;font-size:24px;line-height:24px;text-align:center;color:#595959;">0,765</div>
<div class="t" style="left:173.5px;top:1222.3px;width:1200px;font-size:24px;line-height:24px;text-align:center;color:#595959;">1,800</div>
<div class="t" style="left:452.0px;top:1222.3px;width:1200px;font-size:24px;line-height:24px;text-align:center;color:#595959;">0,914</div>
<div class="t" style="left:703.0px;top:1223.5px;width:1200px;font-size:23.7px;line-height:23.7px;text-align:center;color:#595959;font-weight:bold;">Media</div>
<div class="t" style="left:910.2px;top:1222.3px;width:1200px;font-size:24px;line-height:24px;text-align:center;color:#595959;">2,404</div>
<div class="t" style="left:1121.0px;top:1223.5px;width:1200px;font-size:23.7px;line-height:23.7px;text-align:center;color:#595959;font-weight:bold;">0,428</div>
<div class="t" style="left:-300.5px;top:1320.6px;width:1200px;font-size:23.7px;line-height:23.7px;text-align:center;color:#595959;font-weight:bold;">Media</div>
<div class="t" style="left:-107.8px;top:1319.4px;width:1200px;font-size:24px;line-height:24px;text-align:center;color:#595959;">0,6699455</div>
<div class="t" style="left:173.5px;top:1319.4px;width:1200px;font-size:24px;line-height:24px;text-align:center;color:#595959;">7,1717524</div>
<div class="t" style="left:452.0px;top:1319.4px;width:1200px;font-size:24px;line-height:24px;text-align:center;color:#595959;">0,8188386</div>
<div class="t" style="left:703.0px;top:1320.6px;width:1200px;font-size:23.7px;line-height:23.7px;text-align:center;color:#595959;font-weight:bold;">Media</div>
<div class="t" style="left:910.2px;top:1319.4px;width:1200px;font-size:24px;line-height:24px;text-align:center;color:#595959;">7,178</div>
<div class="t" style="left:1121.0px;top:1320.6px;width:1200px;font-size:23.7px;line-height:23.7px;text-align:center;color:#595959;font-weight:bold;">0,146</div>
<div class="t" style="left:-300.5px;top:1578.8px;width:1200px;font-size:23.7px;line-height:23.7px;text-align:center;color:#595959;font-weight:bold;">Media</div>
<div class="t" style="left:-107.8px;top:1577.6px;width:1200px;font-size:24px;line-height:24px;text-align:center;color:#595959;">0,534</div>
<div class="t" style="left:173.5px;top:1577.6px;width:1200px;font-size:24px;line-height:24px;text-align:center;color:#595959;">1933,953</div>
<div class="t" style="left:452.0px;top:1577.6px;width:1200px;font-size:24px;line-height:24px;text-align:center;color:#595959;">0,849</div>
<div class="t" style="left:703.0px;top:1578.8px;width:1200px;font-size:23.7px;line-height:23.7px;text-align:center;color:#595959;font-weight:bold;">Media</div>
<div class="t" style="left:910.2px;top:1577.6px;width:1200px;font-size:24px;line-height:24px;text-align:center;color:#595959;">1933,953</div>
<div class="t" style="left:1121.0px;top:1578.8px;width:1200px;font-size:23.7px;line-height:23.7px;text-align:center;color:#595959;font-weight:bold;">0,018</div>
<div class="t" style="left:-300.5px;top:1650.4px;width:1200px;font-size:23.7px;line-height:23.7px;text-align:center;color:#595959;font-weight:bold;">Media</div>
<div class="t" style="left:-107.8px;top:1649.2px;width:1200px;font-size:24px;line-height:24px;text-align:center;color:#595959;">0,703</div>
<div class="t" style="left:173.5px;top:1649.2px;width:1200px;font-size:24px;line-height:24px;text-align:center;color:#595959;">1,500</div>
<div class="t" style="left:452.0px;top:1649.2px;width:1200px;font-size:24px;line-height:24px;text-align:center;color:#595959;">0,720</div>
<div class="t" style="left:703.0px;top:1650.4px;width:1200px;font-size:23.7px;line-height:23.7px;text-align:center;color:#595959;font-weight:bold;">Media</div>
<div class="t" style="left:910.2px;top:1649.2px;width:1200px;font-size:24px;line-height:24px;text-align:center;color:#595959;">1,504</div>
<div class="t" style="left:1121.0px;top:1650.4px;width:1200px;font-size:23.7px;line-height:23.7px;text-align:center;color:#595959;font-weight:bold;">0,665</div>
<svg width="4362" height="2024" viewBox="0 0 4362 2024"><path d="M2305.25,355.96 L2306.64,355.93 L2308.03,355.90 L2309.42,355.87 L2310.81,355.83 L2312.20,355.80 L2313.59,355.76 L2314.98,355.72 L2316.37,355.68 L2317.76,355.63 L2319.16,355.59 L2320.55,355.54 L2321.94,355.49 L2323.33,355.43 L2324.72,355.38 L2326.11,355.32 L2327.50,355.26 L2328.89,355.20 L2330.28,355.13 L2331.67,355.06 L2333.06,354.99 L2334.45,354.92 L2335.84,354.84 L2337.23,354.76 L2338.62,354.67 L2340.01,354.58 L2341.40,354.49 L2342.79,354.39 L2344.18,354.29 L2345.57,354.19 L2346.96,354.08 L2348.35,353.96 L2349.74,353.85 L2351.13,353.72 L2352.52,353.60 L2353.91,353.46 L2355.30,353.32 L2356.69,353.18 L2358.08,353.03 L2359.47,352.88 L2360.86,352.72 L2362.25,352.55 L2363.64,352.37 L2365.03,352.20 L2366.42,352.01 L2367.81,351.82 L2369.20,351.62 L2370.59,351.41 L2371.98,351.19 L2373.37,350.97 L2374.76,350.74 L2376.15,350.50 L2377.55,350.26 L2378.94,350.00 L2380.33,349.74 L2381.72,349.47 L2383.11,349.19 L2384.50,348.90 L2385.89,348.60 L2387.28,348.29 L2388.67,347.97 L2390.06,347.65 L2391.45,347.31 L2392.84,346.96 L2394.23,346.60 L2395.62,346.23 L2397.01,345.85 L2398.40,345.46 L2399.79,345.05 L2401.18,344.64 L2402.57,344.21 L2403.96,343.78 L2405.35,343.32 L2406.74,342.86 L2408.13,342.39 L2409.52,341.90 L2410.91,341.40 L2412.30,340.89 L2413.69,340.36 L2415.08,339.82 L2416.47,339.27 L2417.86,338.70 L2419.25,338.12 L2420.64,337.53 L2422.03,336.92 L2423.42,336.30 L2424.81,335.66 L2426.20,335.01 L2427.59,334.35 L2428.98,333.67 L2430.37,332.97 L2431.76,332.27 L2433.15,331.54 L2434.54,330.81 L2435.93,330.05 L2437.33,329.29 L2438.72,328.51 L2440.11,327.71 L2441.50,326.90 L2442.89,326.08 L2444.28,325.24 L2445.67,324.39 L2447.06,323.52 L2448.45,322.64 L2449.84,321.74 L2451.23,320.83 L2452.62,319.91 L2454.01,318.97 L2455.40,318.02 L2456.79,317.05 L2458.18,316.07 L2459.57,315.08 L2460.96,314.08 L2462.35,313.06 L2463.74,312.03 L2465.13,310.99 L2466.52,309.94 L2467.91,308.87 L2469.30,307.80 L2470.69,306.71 L2472.08,305.61 L2473.47,304.51 L2474.86,303.39 L2476.25,302.26 L2477.64,301.13 L2479.03,299.99 L2480.42,298.84 L2481.81,297.68 L2483.20,296.51 L2484.59,295.34 L2485.98,294.16 L2487.37,292.98 L2488.76,291.79 L2490.15,290.59 L2491.54,289.40 L2492.93,288.20 L2494.32,286.99 L2495.72,285.79 L2497.11,284.58 L2498.50,283.37 L2499.89,282.17 L2501.28,280.96 L2502.67,279.75 L2504.06,278.55 L2505.45,277.35 L2506.84,276.15 L2508.23,274.96 L2509.62,273.77 L2511.01,272.58 L2512.40,271.41 L2513.79,270.23 L2515.18,269.07 L2516.57,267.92 L2517.96,266.77 L2519.35,265.63 L2520.74,264.51 L2522.13,263.39 L2523.52,262.29 L2524.91,261.20 L2526.30,260.12 L2527.69,259.06 L2529.08,258.01 L2530.47,256.98 L2531.86,255.97 L2533.25,254.97 L2534.64,253.99 L2536.03,253.03 L2537.42,252.08 L2538.81,251.16 L2540.20,250.26 L2541.59,249.38 L2542.98,248.52 L2544.37,247.68 L2545.76,246.87 L2547.15,246.08 L2548.54,245.32 L2549.93,244.58 L2551.32,243.86 L2552.71,243.17 L2554.11,242.51 L2555.50,241.88 L2556.89,241.27 L2558.28,240.69 L2559.67,240.14 L2561.06,239.62 L2562.45,239.13 L2563.84,238.67 L2565.23,238.24 L2566.62,237.84 L2568.01,237.47 L2569.40,237.13 L2570.79,236.82 L2572.18,236.54 L2573.57,236.30 L2574.96,236.09 L2576.35,235.91 L2577.74,235.76 L2579.13,235.65 L2580.52,235.57 L2581.91,235.52 L2583.30,235.50 L2584.69,235.52 L2586.08,235.57 L2587.47,235.65 L2588.86,235.76 L2590.25,235.91 L2591.64,236.09 L2593.03,236.30 L2594.42,236.54 L2595.81,236.82 L2597.20,237.13 L2598.59,237.47 L2599.98,237.84 L2601.37,238.24 L2602.76,238.67 L2604.15,239.13 L2605.54,239.62 L2606.93,240.14 L2608.32,240.69 L2609.71,241.27 L2611.10,241.88 L2612.49,242.51 L2613.89,243.17 L2615.28,243.86 L2616.67,244.58 L2618.06,245.32 L2619.45,246.08 L2620.84,246.87 L2622.23,247.68 L2623.62,248.52 L2625.01,249.38 L2626.40,250.26 L2627.79,251.16 L2629.18,252.08 L2630.57,253.03 L2631.96,253.99 L2633.35,254.97 L2634.74,255.97 L2636.13,256.98 L2637.52,258.01 L2638.91,259.06 L2640.30,260.12 L2641.69,261.20 L2643.08,262.29 L2644.47,263.39 L2645.86,264.51 L2647.25,265.63 L2648.64,266.77 L2650.03,267.92 L2651.42,269.07 L2652.81,270.23 L2654.20,271.41 L2655.59,272.58 L2656.98,273.77 L2658.37,274.96 L2659.76,276.15 L2661.15,277.35 L2662.54,278.55 L2663.93,279.75 L2665.32,280.96 L2666.71,282.17 L2668.10,283.37 L2669.49,284.58 L2670.88,285.79 L2672.28,286.99 L2673.67,288.20 L2675.06,289.40 L2676.45,290.59 L2677.84,291.79 L2679.23,292.98 L2680.62,294.16 L2682.01,295.34 L2683.40,296.51 L2684.79,297.68 L2686.18,298.84 L2687.57,299.99 L2688.96,301.13 L2690.35,302.26 L2691.74,303.39 L2693.13,304.51 L2694.52,305.61 L2695.91,306.71 L2697.30,307.80 L2698.69,308.87 L2700.08,309.94 L2701.47,310.99 L2702.86,312.03 L2704.25,313.06 L2705.64,314.08 L2707.03,315.08 L2708.42,316.07 L2709.81,317.05 L2711.20,318.02 L2712.59,318.97 L2713.98,319.91 L2715.37,320.83 L2716.76,321.74 L2718.15,322.64 L2719.54,323.52 L2720.93,324.39 L2722.32,325.24 L2723.71,326.08 L2725.10,326.90 L2726.49,327.71 L2727.88,328.51 L2729.27,329.29 L2730.67,330.05 L2732.06,330.81 L2733.45,331.54 L2734.84,332.27 L2736.23,332.97 L2737.62,333.67 L2739.01,334.35 L2740.40,335.01 L2741.79,335.66 L2743.18,336.30 L2744.57,336.92 L2745.96,337.53 L2747.35,338.12 L2748.74,338.70 L2750.13,339.27 L2751.52,339.82 L2752.91,340.36 L2754.30,340.89 L2755.69,341.40 L2757.08,341.90 L2758.47,342.39 L2759.86,342.86 L2761.25,343.32 L2762.64,343.78 L2764.03,344.21 L2765.42,344.64 L2766.81,345.05 L2768.20,345.46 L2769.59,345.85 L2770.98,346.23 L2772.37,346.60 L2773.76,346.96 L2775.15,347.31 L2776.54,347.65 L2777.93,347.97 L2779.32,348.29 L2780.71,348.60 L2782.10,348.90 L2783.49,349.19 L2784.88,349.47 L2786.27,349.74 L2787.66,350.00 L2789.05,350.26 L2790.45,350.50 L2791.84,350.74 L2793.23,350.97 L2794.62,351.19 L2796.01,351.41 L2797.40,351.62 L2798.79,351.82 L2800.18,352.01 L2801.57,352.20 L2802.96,352.37 L2804.35,352.55 L2805.74,352.72 L2807.13,352.88 L2808.52,353.03 L2809.91,353.18 L2811.30,353.32 L2812.69,353.46 L2814.08,353.60 L2815.47,353.72 L2816.86,353.85 L2818.25,353.96 L2819.64,354.08 L2821.03,354.19 L2822.42,354.29 L2823.81,354.39 L2825.20,354.49 L2826.59,354.58 L2827.98,354.67 L2829.37,354.76 L2830.76,354.84 L2832.15,354.92 L2833.54,354.99 L2834.93,355.06 L2836.32,355.13 L2837.71,355.20 L2839.10,355.26 L2840.49,355.32 L2841.88,355.38 L2843.27,355.43 L2844.66,355.49 L2846.05,355.54 L2847.44,355.59 L2848.84,355.63 L2850.23,355.68 L2851.62,355.72 L2853.01,355.76 L2854.40,355.80 L2855.79,355.83 L2857.18,355.87 L2858.57,355.90 L2859.96,355.93 L2861.35,355.96 L2861.35,356.5 L2305.25,356.5 Z" fill="#f9e3e4"/><path d="M2203.05,357.00 L2204.32,356.99 L2205.59,356.99 L2206.85,356.99 L2208.12,356.99 L2209.39,356.99 L2210.66,356.99 L2211.92,356.99 L2213.19,356.99 L2214.46,356.99 L2215.73,356.99 L2216.99,356.99 L2218.26,356.99 L2219.53,356.99 L2220.80,356.99 L2222.06,356.99 L2223.33,356.99 L2224.60,356.99 L2225.87,356.98 L2227.13,356.98 L2228.40,356.98 L2229.67,356.98 L2230.94,356.98 L2232.20,356.98 L2233.47,356.98 L2234.74,356.98 L2236.01,356.97 L2237.27,356.97 L2238.54,356.97 L2239.81,356.97 L2241.08,356.97 L2242.34,356.96 L2243.61,356.96 L2244.88,356.96 L2246.14,356.96 L2247.41,356.96 L2248.68,356.95 L2249.95,356.95 L2251.22,356.95 L2252.48,356.94 L2253.75,356.94 L2255.02,356.94 L2256.29,356.93 L2257.55,356.93 L2258.82,356.92 L2260.09,356.92 L2261.36,356.91 L2262.62,356.91 L2263.89,356.90 L2265.16,356.90 L2266.43,356.89 L2267.69,356.89 L2268.96,356.88 L2270.23,356.87 L2271.50,356.87 L2272.76,356.86 L2274.03,356.85 L2275.30,356.84 L2276.57,356.83 L2277.83,356.82 L2279.10,356.81 L2280.37,356.80 L2281.64,356.79 L2282.90,356.78 L2284.17,356.77 L2285.44,356.76 L2286.71,356.74 L2287.97,356.73 L2289.24,356.72 L2290.51,356.70 L2291.78,356.69 L2293.04,356.67 L2294.31,356.65 L2295.58,356.63 L2296.85,356.61 L2298.11,356.59 L2299.38,356.57 L2300.65,356.55 L2301.91,356.53 L2303.18,356.50 L2304.45,356.48 L2305.72,356.45 L2306.99,356.42 L2308.25,356.39 L2309.52,356.36 L2310.79,356.33 L2312.06,356.30 L2313.32,356.27 L2314.59,356.23 L2315.86,356.19 L2317.12,356.15 L2318.39,356.11 L2319.66,356.07 L2320.93,356.02 L2322.20,355.98 L2323.46,355.93 L2324.73,355.88 L2326.00,355.83 L2327.27,355.77 L2328.53,355.72 L2329.80,355.66 L2331.07,355.59 L2332.34,355.53 L2333.60,355.46 L2334.87,355.39 L2336.14,355.32 L2337.41,355.25 L2338.67,355.17 L2339.94,355.09 L2341.21,355.00 L2342.48,354.92 L2343.74,354.82 L2345.01,354.73 L2346.28,354.63 L2347.55,354.53 L2348.81,354.43 L2350.08,354.32 L2351.35,354.20 L2352.62,354.09 L2353.88,353.97 L2355.15,353.84 L2356.42,353.71 L2357.69,353.57 L2358.95,353.43 L2360.22,353.29 L2361.49,353.14 L2362.76,352.99 L2364.02,352.83 L2365.29,352.66 L2366.56,352.49 L2367.83,352.31 L2369.09,352.13 L2370.36,351.94 L2371.63,351.75 L2372.89,351.55 L2374.16,351.34 L2375.43,351.13 L2376.70,350.91 L2377.97,350.68 L2379.23,350.45 L2380.50,350.21 L2381.77,349.96 L2383.04,349.70 L2384.30,349.44 L2385.57,349.17 L2386.84,348.89 L2388.11,348.60 L2389.37,348.31 L2390.64,348.01 L2391.91,347.69 L2393.18,347.37 L2394.44,347.04 L2395.71,346.71 L2396.98,346.36 L2398.25,346.00 L2399.51,345.64 L2400.78,345.26 L2402.05,344.87 L2403.32,344.48 L2404.58,344.07 L2405.85,343.66 L2407.12,343.23 L2408.39,342.80 L2409.65,342.35 L2410.92,341.90 L2412.19,341.43 L2413.46,340.95 L2414.72,340.46 L2415.99,339.96 L2417.26,339.45 L2418.53,338.92 L2419.79,338.39 L2421.06,337.84 L2422.33,337.29 L2423.60,336.72 L2424.86,336.14 L2426.13,335.54 L2427.40,334.94 L2428.66,334.32 L2429.93,333.69 L2431.20,333.05 L2432.47,332.40 L2433.74,331.74 L2435.00,331.06 L2436.27,330.37 L2437.54,329.67 L2438.81,328.96 L2440.07,328.23 L2441.34,327.49 L2442.61,326.74 L2443.88,325.98 L2445.14,325.21 L2446.41,324.42 L2447.68,323.63 L2448.95,322.82 L2450.21,322.00 L2451.48,321.16 L2452.75,320.32 L2454.02,319.46 L2455.28,318.60 L2456.55,317.72 L2457.82,316.83 L2459.09,315.93 L2460.35,315.02 L2461.62,314.10 L2462.89,313.16 L2464.16,312.22 L2465.42,311.27 L2466.69,310.31 L2467.96,309.34 L2469.23,308.36 L2470.49,307.37 L2471.76,306.37 L2473.03,305.36 L2474.30,304.35 L2475.56,303.32 L2476.83,302.29 L2478.10,301.26 L2479.37,300.21 L2480.63,299.16 L2481.90,298.10 L2483.17,297.04 L2484.44,295.97 L2485.70,294.90 L2486.97,293.82 L2488.24,292.74 L2489.51,291.65 L2490.77,290.56 L2492.04,289.47 L2493.31,288.37 L2494.58,287.28 L2495.84,286.18 L2497.11,285.08 L2498.38,283.98 L2499.64,282.88 L2500.91,281.78 L2502.18,280.68 L2503.45,279.58 L2504.72,278.48 L2505.98,277.39 L2507.25,276.30 L2508.52,275.21 L2509.79,274.12 L2511.05,273.05 L2512.32,271.97 L2513.59,270.90 L2514.86,269.84 L2516.12,268.79 L2517.39,267.74 L2518.66,266.70 L2519.93,265.67 L2521.19,264.64 L2522.46,263.63 L2523.73,262.63 L2525.00,261.63 L2526.26,260.65 L2527.53,259.68 L2528.80,258.72 L2530.07,257.78 L2531.33,256.85 L2532.60,255.93 L2533.87,255.03 L2535.14,254.14 L2536.40,253.27 L2537.67,252.42 L2538.94,251.58 L2540.21,250.76 L2541.47,249.95 L2542.74,249.17 L2544.01,248.40 L2545.28,247.65 L2546.54,246.92 L2547.81,246.22 L2549.08,245.53 L2550.35,244.86 L2551.61,244.22 L2552.88,243.59 L2554.15,242.99 L2555.41,242.41 L2556.68,241.86 L2557.95,241.33 L2559.22,240.82 L2560.49,240.33 L2561.75,239.87 L2563.02,239.44 L2564.29,239.03 L2565.56,238.64 L2566.82,238.28 L2568.09,237.95 L2569.36,237.64 L2570.62,237.35 L2571.89,237.10 L2573.16,236.87 L2574.43,236.67 L2575.70,236.49 L2576.96,236.34 L2578.23,236.22 L2579.50,236.12 L2580.77,236.06 L2582.03,236.01 L2583.30,236.00 L2584.57,236.01 L2585.84,236.06 L2587.10,236.12 L2588.37,236.22 L2589.64,236.34 L2590.91,236.49 L2592.17,236.67 L2593.44,236.87 L2594.71,237.10 L2595.98,237.35 L2597.24,237.64 L2598.51,237.95 L2599.78,238.28 L2601.05,238.64 L2602.31,239.03 L2603.58,239.44 L2604.85,239.87 L2606.12,240.33 L2607.38,240.82 L2608.65,241.33 L2609.92,241.86 L2611.19,242.41 L2612.45,242.99 L2613.72,243.59 L2614.99,244.22 L2616.26,244.86 L2617.52,245.53 L2618.79,246.22 L2620.06,246.92 L2621.33,247.65 L2622.59,248.40 L2623.86,249.17 L2625.13,249.95 L2626.39,250.76 L2627.66,251.58 L2628.93,252.42 L2630.20,253.27 L2631.47,254.14 L2632.73,255.03 L2634.00,255.93 L2635.27,256.85 L2636.54,257.78 L2637.80,258.72 L2639.07,259.68 L2640.34,260.65 L2641.61,261.63 L2642.87,262.63 L2644.14,263.63 L2645.41,264.64 L2646.68,265.67 L2647.94,266.70 L2649.21,267.74 L2650.48,268.79 L2651.75,269.84 L2653.01,270.90 L2654.28,271.97 L2655.55,273.05 L2656.82,274.12 L2658.08,275.21 L2659.35,276.30 L2660.62,277.39 L2661.89,278.48 L2663.15,279.58 L2664.42,280.68 L2665.69,281.78 L2666.96,282.88 L2668.22,283.98 L2669.49,285.08 L2670.76,286.18 L2672.03,287.28 L2673.29,288.37 L2674.56,289.47 L2675.83,290.56 L2677.10,291.65 L2678.36,292.74 L2679.63,293.82 L2680.90,294.90 L2682.16,295.97 L2683.43,297.04 L2684.70,298.10 L2685.97,299.16 L2687.24,300.21 L2688.50,301.26 L2689.77,302.29 L2691.04,303.32 L2692.31,304.35 L2693.57,305.36 L2694.84,306.37 L2696.11,307.37 L2697.38,308.36 L2698.64,309.34 L2699.91,310.31 L2701.18,311.27 L2702.45,312.22 L2703.71,313.16 L2704.98,314.10 L2706.25,315.02 L2707.52,315.93 L2708.78,316.83 L2710.05,317.72 L2711.32,318.60 L2712.59,319.46 L2713.85,320.32 L2715.12,321.16 L2716.39,322.00 L2717.66,322.82 L2718.92,323.63 L2720.19,324.42 L2721.46,325.21 L2722.73,325.98 L2723.99,326.74 L2725.26,327.49 L2726.53,328.23 L2727.80,328.96 L2729.06,329.67 L2730.33,330.37 L2731.60,331.06 L2732.87,331.74 L2734.13,332.40 L2735.40,333.05 L2736.67,333.69 L2737.94,334.32 L2739.20,334.94 L2740.47,335.54 L2741.74,336.14 L2743.01,336.72 L2744.27,337.29 L2745.54,337.84 L2746.81,338.39 L2748.08,338.92 L2749.34,339.45 L2750.61,339.96 L2751.88,340.46 L2753.14,340.95 L2754.41,341.43 L2755.68,341.90 L2756.95,342.35 L2758.22,342.80 L2759.48,343.23 L2760.75,343.66 L2762.02,344.07 L2763.29,344.48 L2764.55,344.87 L2765.82,345.26 L2767.09,345.64 L2768.36,346.00 L2769.62,346.36 L2770.89,346.71 L2772.16,347.04 L2773.43,347.37 L2774.69,347.69 L2775.96,348.01 L2777.23,348.31 L2778.50,348.60 L2779.76,348.89 L2781.03,349.17 L2782.30,349.44 L2783.57,349.70 L2784.83,349.96 L2786.10,350.21 L2787.37,350.45 L2788.64,350.68 L2789.90,350.91 L2791.17,351.13 L2792.44,351.34 L2793.71,351.55 L2794.97,351.75 L2796.24,351.94 L2797.51,352.13 L2798.78,352.31 L2800.04,352.49 L2801.31,352.66 L2802.58,352.83 L2803.85,352.99 L2805.11,353.14 L2806.38,353.29 L2807.65,353.43 L2808.91,353.57 L2810.18,353.71 L2811.45,353.84 L2812.72,353.97 L2813.99,354.09 L2815.25,354.20 L2816.52,354.32 L2817.79,354.43 L2819.06,354.53 L2820.32,354.63 L2821.59,354.73 L2822.86,354.82 L2824.12,354.92 L2825.39,355.00 L2826.66,355.09 L2827.93,355.17 L2829.20,355.25 L2830.46,355.32 L2831.73,355.39 L2833.00,355.46 L2834.27,355.53 L2835.53,355.59 L2836.80,355.66 L2838.07,355.72 L2839.34,355.77 L2840.60,355.83 L2841.87,355.88 L2843.14,355.93 L2844.41,355.98 L2845.67,356.02 L2846.94,356.07 L2848.21,356.11 L2849.48,356.15 L2850.74,356.19 L2852.01,356.23 L2853.28,356.27 L2854.55,356.30 L2855.81,356.33 L2857.08,356.36 L2858.35,356.39 L2859.62,356.42 L2860.88,356.45 L2862.15,356.48 L2863.42,356.50 L2864.69,356.53 L2865.95,356.55 L2867.22,356.57 L2868.49,356.59 L2869.76,356.61 L2871.02,356.63 L2872.29,356.65 L2873.56,356.67 L2874.83,356.69 L2876.09,356.70 L2877.36,356.72 L2878.63,356.73 L2879.89,356.74 L2881.16,356.76 L2882.43,356.77 L2883.70,356.78 L2884.97,356.79 L2886.23,356.80 L2887.50,356.81 L2888.77,356.82 L2890.04,356.83 L2891.30,356.84 L2892.57,356.85 L2893.84,356.86 L2895.11,356.87 L2896.37,356.87 L2897.64,356.88 L2898.91,356.89 L2900.18,356.89 L2901.44,356.90 L2902.71,356.90 L2903.98,356.91 L2905.25,356.91 L2906.51,356.92 L2907.78,356.92 L2909.05,356.93 L2910.32,356.93 L2911.58,356.94 L2912.85,356.94 L2914.12,356.94 L2915.39,356.95 L2916.65,356.95 L2917.92,356.95 L2919.19,356.96 L2920.46,356.96 L2921.72,356.96 L2922.99,356.96 L2924.26,356.96 L2925.53,356.97 L2926.79,356.97 L2928.06,356.97 L2929.33,356.97 L2930.60,356.97 L2931.86,356.98 L2933.13,356.98 L2934.40,356.98 L2935.66,356.98 L2936.93,356.98 L2938.20,356.98 L2939.47,356.98 L2940.74,356.98 L2942.00,356.99 L2943.27,356.99 L2944.54,356.99 L2945.81,356.99 L2947.07,356.99 L2948.34,356.99 L2949.61,356.99 L2950.88,356.99 L2952.14,356.99 L2953.41,356.99 L2954.68,356.99 L2955.95,356.99 L2957.21,356.99 L2958.48,356.99 L2959.75,356.99 L2961.02,356.99 L2962.28,356.99 L2963.55,357.00" fill="none" stroke="#c0282a" stroke-width="2.4"/><line x1="1881" y1="357.0" x2="2305.3" y2="357.0" stroke="#a31d1d" stroke-width="3"/><line x1="2861.3" y1="357.0" x2="3200.5" y2="357.0" stroke="#a31d1d" stroke-width="3"/><line x1="2305.3" y1="357.3" x2="2861.3" y2="357.3" stroke="#e0383a" stroke-width="1.4"/><line x1="1907.3" y1="358.0" x2="1907.3" y2="361.5" stroke="#333" stroke-width="1.6"/><line x1="1991.8" y1="358.0" x2="1991.8" y2="361.5" stroke="#333" stroke-width="1.6"/><line x1="2076.3" y1="358.0" x2="2076.3" y2="361.5" stroke="#333" stroke-width="1.6"/><line x1="2160.8" y1="358.0" x2="2160.8" y2="361.5" stroke="#333" stroke-width="1.6"/><line x1="2245.3" y1="358.0" x2="2245.3" y2="361.5" stroke="#333" stroke-width="1.6"/><line x1="2329.8" y1="358.0" x2="2329.8" y2="361.5" stroke="#333" stroke-width="1.6"/><line x1="2414.3" y1="358.0" x2="2414.3" y2="361.5" stroke="#333" stroke-width="1.6"/><line x1="2498.8" y1="358.0" x2="2498.8" y2="361.5" stroke="#333" stroke-width="1.6"/><line x1="2583.3" y1="358.0" x2="2583.3" y2="361.5" stroke="#333" stroke-width="1.6"/><line x1="2667.8" y1="358.0" x2="2667.8" y2="361.5" stroke="#333" stroke-width="1.6"/><line x1="2752.3" y1="358.0" x2="2752.3" y2="361.5" stroke="#333" stroke-width="1.6"/><line x1="2836.8" y1="358.0" x2="2836.8" y2="361.5" stroke="#333" stroke-width="1.6"/><line x1="2921.3" y1="358.0" x2="2921.3" y2="361.5" stroke="#333" stroke-width="1.6"/><line x1="3005.8" y1="358.0" x2="3005.8" y2="361.5" stroke="#333" stroke-width="1.6"/><line x1="3090.3" y1="358.0" x2="3090.3" y2="361.5" stroke="#333" stroke-width="1.6"/><line x1="3174.8" y1="358.0" x2="3174.8" y2="361.5" stroke="#333" stroke-width="1.6"/><line x1="2305.4" y1="387.0" x2="2860.9" y2="387.0" stroke="#333" stroke-width="3"/><circle cx="2305.4" cy="387.0" r="5.5" fill="#333"/><circle cx="2860.9" cy="387.0" r="5.5" fill="#333"/><line x1="2305.4" y1="904.0" x2="2860.9" y2="904.0" stroke="#333" stroke-width="3"/><circle cx="2305.4" cy="904.0" r="5.5" fill="#333"/><circle cx="2860.9" cy="904.0" r="5.5" fill="#333"/><path d="M2305.25,842.26 L2306.64,842.23 L2308.03,842.20 L2309.42,842.17 L2310.81,842.13 L2312.20,842.10 L2313.59,842.06 L2314.98,842.02 L2316.37,841.98 L2317.76,841.93 L2319.16,841.89 L2320.55,841.84 L2321.94,841.79 L2323.33,841.73 L2324.72,841.68 L2326.11,841.62 L2327.50,841.56 L2328.89,841.50 L2330.28,841.43 L2331.67,841.36 L2333.06,841.29 L2334.45,841.22 L2335.84,841.14 L2337.23,841.06 L2338.62,840.97 L2340.01,840.88 L2341.40,840.79 L2342.79,840.69 L2344.18,840.59 L2345.57,840.49 L2346.96,840.38 L2348.35,840.26 L2349.74,840.15 L2351.13,840.02 L2352.52,839.90 L2353.91,839.76 L2355.30,839.62 L2356.69,839.48 L2358.08,839.33 L2359.47,839.18 L2360.86,839.02 L2362.25,838.85 L2363.64,838.67 L2365.03,838.50 L2366.42,838.31 L2367.81,838.12 L2369.20,837.92 L2370.59,837.71 L2371.98,837.49 L2373.37,837.27 L2374.76,837.04 L2376.15,836.80 L2377.55,836.56 L2378.94,836.30 L2380.33,836.04 L2381.72,835.77 L2383.11,835.49 L2384.50,835.20 L2385.89,834.90 L2387.28,834.59 L2388.67,834.27 L2390.06,833.95 L2391.45,833.61 L2392.84,833.26 L2394.23,832.90 L2395.62,832.53 L2397.01,832.15 L2398.40,831.76 L2399.79,831.35 L2401.18,830.94 L2402.57,830.51 L2403.96,830.08 L2405.35,829.62 L2406.74,829.16 L2408.13,828.69 L2409.52,828.20 L2410.91,827.70 L2412.30,827.19 L2413.69,826.66 L2415.08,826.12 L2416.47,825.57 L2417.86,825.00 L2419.25,824.42 L2420.64,823.83 L2422.03,823.22 L2423.42,822.60 L2424.81,821.96 L2426.20,821.31 L2427.59,820.65 L2428.98,819.97 L2430.37,819.27 L2431.76,818.57 L2433.15,817.84 L2434.54,817.11 L2435.93,816.35 L2437.33,815.59 L2438.72,814.81 L2440.11,814.01 L2441.50,813.20 L2442.89,812.38 L2444.28,811.54 L2445.67,810.69 L2447.06,809.82 L2448.45,808.94 L2449.84,808.04 L2451.23,807.13 L2452.62,806.21 L2454.01,805.27 L2455.40,804.32 L2456.79,803.35 L2458.18,802.37 L2459.57,801.38 L2460.96,800.38 L2462.35,799.36 L2463.74,798.33 L2465.13,797.29 L2466.52,796.24 L2467.91,795.17 L2469.30,794.10 L2470.69,793.01 L2472.08,791.91 L2473.47,790.81 L2474.86,789.69 L2476.25,788.56 L2477.64,787.43 L2479.03,786.29 L2480.42,785.14 L2481.81,783.98 L2483.20,782.81 L2484.59,781.64 L2485.98,780.46 L2487.37,779.28 L2488.76,778.09 L2490.15,776.89 L2491.54,775.70 L2492.93,774.50 L2494.32,773.29 L2495.72,772.09 L2497.11,770.88 L2498.50,769.67 L2499.89,768.47 L2501.28,767.26 L2502.67,766.05 L2504.06,764.85 L2505.45,763.65 L2506.84,762.45 L2508.23,761.26 L2509.62,760.07 L2511.01,758.88 L2512.40,757.71 L2513.79,756.53 L2515.18,755.37 L2516.57,754.22 L2517.96,753.07 L2519.35,751.93 L2520.74,750.81 L2522.13,749.69 L2523.52,748.59 L2524.91,747.50 L2526.30,746.42 L2527.69,745.36 L2529.08,744.31 L2530.47,743.28 L2531.86,742.27 L2533.25,741.27 L2534.64,740.29 L2536.03,739.33 L2537.42,738.38 L2538.81,737.46 L2540.20,736.56 L2541.59,735.68 L2542.98,734.82 L2544.37,733.98 L2545.76,733.17 L2547.15,732.38 L2548.54,731.62 L2549.93,730.88 L2551.32,730.16 L2552.71,729.47 L2554.11,728.81 L2555.50,728.18 L2556.89,727.57 L2558.28,726.99 L2559.67,726.44 L2561.06,725.92 L2562.45,725.43 L2563.84,724.97 L2565.23,724.54 L2566.62,724.14 L2568.01,723.77 L2569.40,723.43 L2570.79,723.12 L2572.18,722.84 L2573.57,722.60 L2574.96,722.39 L2576.35,722.21 L2577.74,722.06 L2579.13,721.95 L2580.52,721.87 L2581.91,721.82 L2583.30,721.80 L2584.69,721.82 L2586.08,721.87 L2587.47,721.95 L2588.86,722.06 L2590.25,722.21 L2591.64,722.39 L2593.03,722.60 L2594.42,722.84 L2595.81,723.12 L2597.20,723.43 L2598.59,723.77 L2599.98,724.14 L2601.37,724.54 L2602.76,724.97 L2604.15,725.43 L2605.54,725.92 L2606.93,726.44 L2608.32,726.99 L2609.71,727.57 L2611.10,728.18 L2612.49,728.81 L2613.89,729.47 L2615.28,730.16 L2616.67,730.88 L2618.06,731.62 L2619.45,732.38 L2620.84,733.17 L2622.23,733.98 L2623.62,734.82 L2625.01,735.68 L2626.40,736.56 L2627.79,737.46 L2629.18,738.38 L2630.57,739.33 L2631.96,740.29 L2633.35,741.27 L2634.74,742.27 L2636.13,743.28 L2637.52,744.31 L2638.91,745.36 L2640.30,746.42 L2641.69,747.50 L2643.08,748.59 L2644.47,749.69 L2645.86,750.81 L2647.25,751.93 L2648.64,753.07 L2650.03,754.22 L2651.42,755.37 L2652.81,756.53 L2654.20,757.71 L2655.59,758.88 L2656.98,760.07 L2658.37,761.26 L2659.76,762.45 L2661.15,763.65 L2662.54,764.85 L2663.93,766.05 L2665.32,767.26 L2666.71,768.47 L2668.10,769.67 L2669.49,770.88 L2670.88,772.09 L2672.28,773.29 L2673.67,774.50 L2675.06,775.70 L2676.45,776.89 L2677.84,778.09 L2679.23,779.28 L2680.62,780.46 L2682.01,781.64 L2683.40,782.81 L2684.79,783.98 L2686.18,785.14 L2687.57,786.29 L2688.96,787.43 L2690.35,788.56 L2691.74,789.69 L2693.13,790.81 L2694.52,791.91 L2695.91,793.01 L2697.30,794.10 L2698.69,795.17 L2700.08,796.24 L2701.47,797.29 L2702.86,798.33 L2704.25,799.36 L2705.64,800.38 L2707.03,801.38 L2708.42,802.37 L2709.81,803.35 L2711.20,804.32 L2712.59,805.27 L2713.98,806.21 L2715.37,807.13 L2716.76,808.04 L2718.15,808.94 L2719.54,809.82 L2720.93,810.69 L2722.32,811.54 L2723.71,812.38 L2725.10,813.20 L2726.49,814.01 L2727.88,814.81 L2729.27,815.59 L2730.67,816.35 L2732.06,817.11 L2733.45,817.84 L2734.84,818.57 L2736.23,819.27 L2737.62,819.97 L2739.01,820.65 L2740.40,821.31 L2741.79,821.96 L2743.18,822.60 L2744.57,823.22 L2745.96,823.83 L2747.35,824.42 L2748.74,825.00 L2750.13,825.57 L2751.52,826.12 L2752.91,826.66 L2754.30,827.19 L2755.69,827.70 L2757.08,828.20 L2758.47,828.69 L2759.86,829.16 L2761.25,829.62 L2762.64,830.08 L2764.03,830.51 L2765.42,830.94 L2766.81,831.35 L2768.20,831.76 L2769.59,832.15 L2770.98,832.53 L2772.37,832.90 L2773.76,833.26 L2775.15,833.61 L2776.54,833.95 L2777.93,834.27 L2779.32,834.59 L2780.71,834.90 L2782.10,835.20 L2783.49,835.49 L2784.88,835.77 L2786.27,836.04 L2787.66,836.30 L2789.05,836.56 L2790.45,836.80 L2791.84,837.04 L2793.23,837.27 L2794.62,837.49 L2796.01,837.71 L2797.40,837.92 L2798.79,838.12 L2800.18,838.31 L2801.57,838.50 L2802.96,838.67 L2804.35,838.85 L2805.74,839.02 L2807.13,839.18 L2808.52,839.33 L2809.91,839.48 L2811.30,839.62 L2812.69,839.76 L2814.08,839.90 L2815.47,840.02 L2816.86,840.15 L2818.25,840.26 L2819.64,840.38 L2821.03,840.49 L2822.42,840.59 L2823.81,840.69 L2825.20,840.79 L2826.59,840.88 L2827.98,840.97 L2829.37,841.06 L2830.76,841.14 L2832.15,841.22 L2833.54,841.29 L2834.93,841.36 L2836.32,841.43 L2837.71,841.50 L2839.10,841.56 L2840.49,841.62 L2841.88,841.68 L2843.27,841.73 L2844.66,841.79 L2846.05,841.84 L2847.44,841.89 L2848.84,841.93 L2850.23,841.98 L2851.62,842.02 L2853.01,842.06 L2854.40,842.10 L2855.79,842.13 L2857.18,842.17 L2858.57,842.20 L2859.96,842.23 L2861.35,842.26 L2861.35,842.8 L2305.25,842.8 Z" fill="#e4e4f9"/><path d="M2245.30,843.26 L2246.99,843.26 L2248.68,843.25 L2250.37,843.25 L2252.06,843.24 L2253.75,843.24 L2255.44,843.23 L2257.13,843.23 L2258.82,843.22 L2260.51,843.22 L2262.20,843.21 L2263.89,843.20 L2265.58,843.20 L2267.27,843.19 L2268.96,843.18 L2270.65,843.17 L2272.34,843.16 L2274.03,843.15 L2275.72,843.14 L2277.41,843.13 L2279.10,843.11 L2280.79,843.10 L2282.48,843.09 L2284.17,843.07 L2285.86,843.05 L2287.55,843.04 L2289.24,843.02 L2290.93,843.00 L2292.62,842.97 L2294.31,842.95 L2296.00,842.93 L2297.69,842.90 L2299.38,842.87 L2301.07,842.84 L2302.76,842.81 L2304.45,842.78 L2306.14,842.74 L2307.83,842.70 L2309.52,842.66 L2311.21,842.62 L2312.90,842.58 L2314.59,842.53 L2316.28,842.48 L2317.97,842.43 L2319.66,842.37 L2321.35,842.31 L2323.04,842.25 L2324.73,842.18 L2326.42,842.11 L2328.11,842.03 L2329.80,841.96 L2331.49,841.87 L2333.18,841.79 L2334.87,841.69 L2336.56,841.60 L2338.25,841.49 L2339.94,841.39 L2341.63,841.27 L2343.32,841.16 L2345.01,841.03 L2346.70,840.90 L2348.39,840.76 L2350.08,840.62 L2351.77,840.47 L2353.46,840.31 L2355.15,840.14 L2356.84,839.96 L2358.53,839.78 L2360.22,839.59 L2361.91,839.39 L2363.60,839.18 L2365.29,838.96 L2366.98,838.73 L2368.67,838.49 L2370.36,838.24 L2372.05,837.98 L2373.74,837.71 L2375.43,837.43 L2377.12,837.13 L2378.81,836.83 L2380.50,836.51 L2382.19,836.18 L2383.88,835.83 L2385.57,835.47 L2387.26,835.10 L2388.95,834.71 L2390.64,834.31 L2392.33,833.89 L2394.02,833.45 L2395.71,833.01 L2397.40,832.54 L2399.09,832.06 L2400.78,831.56 L2402.47,831.04 L2404.16,830.51 L2405.85,829.96 L2407.54,829.39 L2409.23,828.80 L2410.92,828.20 L2412.61,827.57 L2414.30,826.92 L2415.99,826.26 L2417.68,825.57 L2419.37,824.87 L2421.06,824.14 L2422.75,823.40 L2424.44,822.63 L2426.13,821.84 L2427.82,821.04 L2429.51,820.21 L2431.20,819.35 L2432.89,818.48 L2434.58,817.59 L2436.27,816.67 L2437.96,815.73 L2439.65,814.77 L2441.34,813.79 L2443.03,812.79 L2444.72,811.77 L2446.41,810.72 L2448.10,809.66 L2449.79,808.57 L2451.48,807.46 L2453.17,806.33 L2454.86,805.19 L2456.55,804.02 L2458.24,802.83 L2459.93,801.62 L2461.62,800.40 L2463.31,799.15 L2465.00,797.89 L2466.69,796.61 L2468.38,795.31 L2470.07,794.00 L2471.76,792.67 L2473.45,791.32 L2475.14,789.97 L2476.83,788.59 L2478.52,787.21 L2480.21,785.81 L2481.90,784.40 L2483.59,782.98 L2485.28,781.56 L2486.97,780.12 L2488.66,778.68 L2490.35,777.23 L2492.04,775.77 L2493.73,774.31 L2495.42,772.84 L2497.11,771.38 L2498.80,769.91 L2500.49,768.44 L2502.18,766.98 L2503.87,765.51 L2505.56,764.05 L2507.25,762.60 L2508.94,761.15 L2510.63,759.70 L2512.32,758.27 L2514.01,756.85 L2515.70,755.44 L2517.39,754.04 L2519.08,752.65 L2520.77,751.28 L2522.46,749.93 L2524.15,748.59 L2525.84,747.28 L2527.53,745.98 L2529.22,744.71 L2530.91,743.46 L2532.60,742.23 L2534.29,741.03 L2535.98,739.86 L2537.67,738.72 L2539.36,737.60 L2541.05,736.52 L2542.74,735.47 L2544.43,734.45 L2546.12,733.46 L2547.81,732.52 L2549.50,731.60 L2551.19,730.73 L2552.88,729.89 L2554.57,729.10 L2556.26,728.34 L2557.95,727.63 L2559.64,726.95 L2561.33,726.32 L2563.02,725.74 L2564.71,725.19 L2566.40,724.70 L2568.09,724.25 L2569.78,723.84 L2571.47,723.48 L2573.16,723.17 L2574.85,722.90 L2576.54,722.69 L2578.23,722.52 L2579.92,722.40 L2581.61,722.33 L2583.30,722.30 L2584.99,722.33 L2586.68,722.40 L2588.37,722.52 L2590.06,722.69 L2591.75,722.90 L2593.44,723.17 L2595.13,723.48 L2596.82,723.84 L2598.51,724.25 L2600.20,724.70 L2601.89,725.19 L2603.58,725.74 L2605.27,726.32 L2606.96,726.95 L2608.65,727.63 L2610.34,728.34 L2612.03,729.10 L2613.72,729.89 L2615.41,730.73 L2617.10,731.60 L2618.79,732.52 L2620.48,733.46 L2622.17,734.45 L2623.86,735.47 L2625.55,736.52 L2627.24,737.60 L2628.93,738.72 L2630.62,739.86 L2632.31,741.03 L2634.00,742.23 L2635.69,743.46 L2637.38,744.71 L2639.07,745.98 L2640.76,747.28 L2642.45,748.59 L2644.14,749.93 L2645.83,751.28 L2647.52,752.65 L2649.21,754.04 L2650.90,755.44 L2652.59,756.85 L2654.28,758.27 L2655.97,759.70 L2657.66,761.15 L2659.35,762.60 L2661.04,764.05 L2662.73,765.51 L2664.42,766.98 L2666.11,768.44 L2667.80,769.91 L2669.49,771.38 L2671.18,772.84 L2672.87,774.31 L2674.56,775.77 L2676.25,777.23 L2677.94,778.68 L2679.63,780.12 L2681.32,781.56 L2683.01,782.98 L2684.70,784.40 L2686.39,785.81 L2688.08,787.21 L2689.77,788.59 L2691.46,789.97 L2693.15,791.32 L2694.84,792.67 L2696.53,794.00 L2698.22,795.31 L2699.91,796.61 L2701.60,797.89 L2703.29,799.15 L2704.98,800.40 L2706.67,801.62 L2708.36,802.83 L2710.05,804.02 L2711.74,805.19 L2713.43,806.33 L2715.12,807.46 L2716.81,808.57 L2718.50,809.66 L2720.19,810.72 L2721.88,811.77 L2723.57,812.79 L2725.26,813.79 L2726.95,814.77 L2728.64,815.73 L2730.33,816.67 L2732.02,817.59 L2733.71,818.48 L2735.40,819.35 L2737.09,820.21 L2738.78,821.04 L2740.47,821.84 L2742.16,822.63 L2743.85,823.40 L2745.54,824.14 L2747.23,824.87 L2748.92,825.57 L2750.61,826.26 L2752.30,826.92 L2753.99,827.57 L2755.68,828.20 L2757.37,828.80 L2759.06,829.39 L2760.75,829.96 L2762.44,830.51 L2764.13,831.04 L2765.82,831.56 L2767.51,832.06 L2769.20,832.54 L2770.89,833.01 L2772.58,833.45 L2774.27,833.89 L2775.96,834.31 L2777.65,834.71 L2779.34,835.10 L2781.03,835.47 L2782.72,835.83 L2784.41,836.18 L2786.10,836.51 L2787.79,836.83 L2789.48,837.13 L2791.17,837.43 L2792.86,837.71 L2794.55,837.98 L2796.24,838.24 L2797.93,838.49 L2799.62,838.73 L2801.31,838.96 L2803.00,839.18 L2804.69,839.39 L2806.38,839.59 L2808.07,839.78 L2809.76,839.96 L2811.45,840.14 L2813.14,840.31 L2814.83,840.47 L2816.52,840.62 L2818.21,840.76 L2819.90,840.90 L2821.59,841.03 L2823.28,841.16 L2824.97,841.27 L2826.66,841.39 L2828.35,841.49 L2830.04,841.60 L2831.73,841.69 L2833.42,841.79 L2835.11,841.87 L2836.80,841.96 L2838.49,842.03 L2840.18,842.11 L2841.87,842.18 L2843.56,842.25 L2845.25,842.31 L2846.94,842.37 L2848.63,842.43 L2850.32,842.48 L2852.01,842.53 L2853.70,842.58 L2855.39,842.62 L2857.08,842.66 L2858.77,842.70 L2860.46,842.74 L2862.15,842.78 L2863.84,842.81 L2865.53,842.84 L2867.22,842.87 L2868.91,842.90 L2870.60,842.93 L2872.29,842.95 L2873.98,842.97 L2875.67,843.00 L2877.36,843.02 L2879.05,843.04 L2880.74,843.05 L2882.43,843.07 L2884.12,843.09 L2885.81,843.10 L2887.50,843.11 L2889.19,843.13 L2890.88,843.14 L2892.57,843.15 L2894.26,843.16 L2895.95,843.17 L2897.64,843.18 L2899.33,843.19 L2901.02,843.20 L2902.71,843.20 L2904.40,843.21 L2906.09,843.22 L2907.78,843.22 L2909.47,843.23 L2911.16,843.23 L2912.85,843.24 L2914.54,843.24 L2916.23,843.25 L2917.92,843.25 L2919.61,843.26 L2921.30,843.26" fill="none" stroke="#2323dc" stroke-width="2.4"/><line x1="1881" y1="843.3" x2="3200.5" y2="843.3" stroke="#74304c" stroke-width="3.2"/><line x1="2076" y1="843.3" x2="2962" y2="843.3" stroke="#2b1422" stroke-width="3"/><path d="M2978,843.3 L2960,838.3 L2960,848.3 Z" fill="#222"/><line x1="2125.5" y1="844.3" x2="2125.5" y2="849.3" stroke="#333" stroke-width="1.6"/><line x1="2277.7" y1="844.3" x2="2277.7" y2="849.3" stroke="#333" stroke-width="1.6"/><line x1="2354.9" y1="844.3" x2="2354.9" y2="849.3" stroke="#333" stroke-width="1.6"/><line x1="2430.9" y1="844.3" x2="2430.9" y2="849.3" stroke="#333" stroke-width="1.6"/><line x1="2507.1" y1="844.3" x2="2507.1" y2="849.3" stroke="#333" stroke-width="1.6"/><line x1="2583.3" y1="844.3" x2="2583.3" y2="849.3" stroke="#333" stroke-width="1.6"/><line x1="2659.5" y1="844.3" x2="2659.5" y2="849.3" stroke="#333" stroke-width="1.6"/><line x1="2735.7" y1="844.3" x2="2735.7" y2="849.3" stroke="#333" stroke-width="1.6"/><line x1="2811.9" y1="844.3" x2="2811.9" y2="849.3" stroke="#333" stroke-width="1.6"/><line x1="2888.1" y1="844.3" x2="2888.1" y2="849.3" stroke="#333" stroke-width="1.6"/><line x1="3040.5" y1="844.3" x2="3040.5" y2="849.3" stroke="#333" stroke-width="1.6"/><circle cx="2541" cy="1254.9" r="6" fill="#7a7a7a"/><circle cx="2587" cy="1751.2" r="6" fill="#7a7a7a"/><rect x="1942.3" y="222" width="98.7" height="30" rx="5" fill="#fff" stroke="#2b2bd2" stroke-width="2"/><path d="M2018.4,234 L2031.8,234 L2025.1,243 Z" fill="#444"/><rect x="1919.7" y="469.2" width="117.0" height="42.2" rx="5" fill="#fff" stroke="#b8b8b8" stroke-width="1.6"/><rect x="2175.8" y="475.8" width="117.2" height="42.4" rx="5" fill="#fff" stroke="#b8b8b8" stroke-width="1.6"/><rect x="2364.1000000000004" y="468.0" width="117.2" height="41.7" rx="5" fill="#fff" stroke="#b8b8b8" stroke-width="1.6"/><rect x="1957.3" y="617.3" width="35" height="35" rx="4" fill="#6659d4"/><path d="M1963.5,635.5 L1971.5,644 L1986,625.5" fill="none" stroke="#fff" stroke-width="4" stroke-linecap="round" stroke-linejoin="round"/><line x1="2222.2" y1="558.9" x2="2265" y2="558.9" stroke="#222" stroke-width="1.6"/><line x1="2306.5" y1="558.9" x2="2371.3" y2="558.9" stroke="#222" stroke-width="1.6"/><path d="M2225,580 L2229,577 L2236,591 L2243,566 L2265,566" fill="none" stroke="#222" stroke-width="1.5"/><path d="M2315,580 L2319,577 L2326,591 L2333,566 L2367,566" fill="none" stroke="#222" stroke-width="1.5"/><line x1="1914.5" y1="235.3" x2="1933.6" y2="235.3" stroke="#333" stroke-width="1.3"/><line x1="1914.5" y1="241.5" x2="1933.6" y2="241.5" stroke="#333" stroke-width="1.3"/><line x1="2145.3" y1="494.7" x2="2164.2" y2="494.7" stroke="#333" stroke-width="1.3"/><line x1="2145.3" y1="500.5" x2="2164.2" y2="500.5" stroke="#333" stroke-width="1.3"/><line x1="2123.9" y1="487.7" x2="2134.2" y2="487.7" stroke="#222" stroke-width="1.4"/></svg>
<div class="t" style="left:1881.0px;top:158.8px;width:1200px;font-size:24.3px;line-height:24.3px;text-align:left;color:#111;">Confidence level</div>
<div class="t" style="left:1892.0px;top:225.1px;width:1200px;font-size:24px;line-height:24px;text-align:left;color:#111;">p</div>
<div class="t" style="left:1949.0px;top:225.9px;width:1200px;font-size:23.7px;line-height:23.7px;text-align:left;color:#1f5c12;">0.999</div>
<div class="t" style="left:1999.6px;top:294.7px;width:1200px;font-size:24.5px;line-height:24.5px;text-align:center;color:#e0201c;text-shadow:0 0 2px #fff,0 0 2px #fff;">0.999</div>
<div class="t" style="left:2662.8px;top:234.2px;width:1200px;font-size:30px;line-height:30px;text-align:left;color:#222;font-family:'Liberation Serif', serif;transform:scaleX(1.08);transform-origin:left center;"><i style="text-decoration:underline;text-decoration-thickness:1.5px;text-underline-offset:4px">Z</i> ∼ <i>N</i>(0, 1)</div>
<div class="t" style="left:1307.8px;top:366.7px;width:1200px;font-size:17.5px;line-height:17.5px;text-align:center;color:#111;">−8</div>
<div class="t" style="left:1392.3px;top:366.7px;width:1200px;font-size:17.5px;line-height:17.5px;text-align:center;color:#111;">−7</div>
<div class="t" style="left:1476.8px;top:366.7px;width:1200px;font-size:17.5px;line-height:17.5px;text-align:center;color:#111;">−6</div>
<div class="t" style="left:1561.3px;top:366.7px;width:1200px;font-size:17.5px;line-height:17.5px;text-align:center;color:#111;">−5</div>
<div class="t" style="left:1645.8px;top:366.7px;width:1200px;font-size:17.5px;line-height:17.5px;text-align:center;color:#111;">−4</div>
<div class="t" style="left:1730.3px;top:366.7px;width:1200px;font-size:17.5px;line-height:17.5px;text-align:center;color:#111;">−3</div>
<div class="t" style="left:1814.8px;top:366.7px;width:1200px;font-size:17.5px;line-height:17.5px;text-align:center;color:#111;">−2</div>
<div class="t" style="left:1899.3px;top:366.7px;width:1200px;font-size:17.5px;line-height:17.5px;text-align:center;color:#111;">−1</div>
<div class="t" style="left:1983.8px;top:366.7px;width:1200px;font-size:17.5px;line-height:17.5px;text-align:center;color:#111;">0</div>
<div class="t" style="left:2068.3px;top:366.7px;width:1200px;font-size:17.5px;line-height:17.5px;text-align:center;color:#111;">1</div>
<div class="t" style="left:2152.8px;top:366.7px;width:1200px;font-size:17.5px;line-height:17.5px;text-align:center;color:#111;">2</div>
<div class="t" style="left:2237.3px;top:366.7px;width:1200px;font-size:17.5px;line-height:17.5px;text-align:center;color:#111;">3</div>
<div class="t" style="left:2321.8px;top:366.7px;width:1200px;font-size:17.5px;line-height:17.5px;text-align:center;color:#111;">4</div>
<div class="t" style="left:2406.3px;top:366.7px;width:1200px;font-size:17.5px;line-height:17.5px;text-align:center;color:#111;">5</div>
<div class="t" style="left:2490.8px;top:366.7px;width:1200px;font-size:17.5px;line-height:17.5px;text-align:center;color:#111;">6</div>
<div class="t" style="left:2575.3px;top:366.7px;width:1200px;font-size:17.5px;line-height:17.5px;text-align:center;color:#111;">7</div>
<div class="t" style="left:2807.6px;top:397.9px;width:1200px;font-size:24.3px;line-height:24.3px;text-align:left;color:#111;">Critical value 3.2905</div>
<div class="t" style="left:1882.7px;top:431.8px;width:1200px;font-size:24.2px;line-height:24.2px;text-align:left;color:#111;">Population</div>
<div class="t" style="left:2214.8px;top:432.5px;width:1200px;font-size:24.2px;line-height:24.2px;text-align:left;color:#111;">Sample</div>
<div class="t" style="left:1881.0px;top:478.8px;width:1200px;font-size:25px;line-height:25px;text-align:left;color:#e0201c;">σ =</div>
<div class="t" style="left:1921.4px;top:479.7px;width:1200px;font-size:24.2px;line-height:24.2px;text-align:left;color:#e0201c;">0.007</div>
<div class="t" style="left:2121.6px;top:483.6px;width:1200px;font-size:25px;line-height:25px;text-align:left;color:#222;">x</div>
<div class="t" style="left:2177.6px;top:486.5px;width:1200px;font-size:24px;line-height:24px;text-align:left;color:#111;">0.35</div>
<div class="t" style="left:2324.9px;top:478.4px;width:1200px;font-size:24px;line-height:24px;text-align:left;color:#2525e0;">n =</div>
<div class="t" style="left:2366.0px;top:478.2px;width:1200px;font-size:24.2px;line-height:24.2px;text-align:left;color:#2525e0;">40</div>
<div class="t" style="left:2158.6px;top:541.7px;width:1200px;font-size:29px;line-height:29px;text-align:left;color:#222;font-family:'Liberation Serif', serif;"><i>s</i><sub style="font-size:16px;vertical-align:-5px"><i>x̄</i></sub></div>
<div class="t" style="left:2191.6px;top:541.7px;width:1200px;font-size:29px;line-height:29px;text-align:left;color:#222;font-family:'Liberation Serif', serif;">=</div>
<div class="t" style="left:1643.5px;top:522.9px;width:1200px;font-size:29px;line-height:29px;text-align:center;color:#d02828;font-family:'Liberation Serif', serif;"><i>σ</i></div>
<div class="t" style="left:1653.0px;top:565.7px;width:1200px;font-size:29px;line-height:29px;text-align:center;color:#2828d8;font-family:'Liberation Serif', serif;"><i>n</i></div>
<div class="t" style="left:2276.0px;top:541.7px;width:1200px;font-size:29px;line-height:29px;text-align:left;color:#222;font-family:'Liberation Serif', serif;">=</div>
<div class="t" style="left:1738.5px;top:522.9px;width:1200px;font-size:29px;line-height:29px;text-align:center;color:#d02828;font-family:'Liberation Serif', serif;">0.007</div>
<div class="t" style="left:1750.0px;top:565.7px;width:1200px;font-size:29px;line-height:29px;text-align:center;color:#2828d8;font-family:'Liberation Serif', serif;">40</div>
<div class="t" style="left:2382.3px;top:541.7px;width:1200px;font-size:29px;line-height:29px;text-align:left;color:#222;font-family:'Liberation Serif', serif;">= 0.0011</div>
<div class="t" style="left:2005.1px;top:624.0px;width:1200px;font-size:24.5px;line-height:24.5px;text-align:left;color:#111;">Show confidence interval for μ</div>
<div class="t" style="left:2016.9px;top:667.8px;width:1200px;font-size:28.5px;line-height:28.5px;text-align:left;color:#222;font-family:'Liberation Serif', serif;transform:scaleX(1.052);transform-origin:left center;">0.35 − 3.2905 · 0.0011 &lt; <i>μ</i> &lt; 0.35 + 3.2905 · 0.0011</div>
<div class="t" style="left:2138.4px;top:713.1px;width:1200px;font-size:28.5px;line-height:28.5px;text-align:left;color:#222;font-family:'Liberation Serif', serif;transform:scaleX(1.089);transform-origin:left center;">0.3464 &lt; <i>μ</i> &lt; 0.3536</div>
<div class="t" style="left:2012.5px;top:763.9px;width:1200px;font-size:23.5px;line-height:23.5px;text-align:center;color:#2020dd;text-shadow:0 0 2px #fff,0 0 2px #fff;">0.999</div>
<div class="t" style="left:2678.3px;top:729.9px;width:1200px;font-size:30px;line-height:30px;text-align:left;color:#222;font-family:'Liberation Serif', serif;transform:scaleX(1.12);transform-origin:left center;"><i>N</i>(<i>x̄</i>, <i>s</i><sub style="font-size:18px;vertical-align:-5px"><i>x̄</i></sub>)</div>
<div class="t" style="left:1577.0px;top:852.5px;width:1200px;font-size:24.3px;line-height:24.3px;text-align:center;color:#111;">0.344</div>
<div class="t" style="left:1662.0px;top:852.5px;width:1200px;font-size:24.3px;line-height:24.3px;text-align:center;color:#111;">0.346</div>
<div class="t" style="left:1746.0px;top:852.5px;width:1200px;font-size:24.3px;line-height:24.3px;text-align:center;color:#111;">0.347</div>
<div class="t" style="left:1831.0px;top:852.5px;width:1200px;font-size:24.3px;line-height:24.3px;text-align:center;color:#111;">0.348</div>
<div class="t" style="left:1916.0px;top:852.5px;width:1200px;font-size:24.3px;line-height:24.3px;text-align:center;color:#111;">0.349</div>
<div class="t" style="left:1993.5px;top:852.5px;width:1200px;font-size:24.3px;line-height:24.3px;text-align:center;color:#111;">0.35</div>
<div class="t" style="left:2083.0px;top:852.5px;width:1200px;font-size:24.3px;line-height:24.3px;text-align:center;color:#111;">0.351</div>
<div class="t" style="left:2169.0px;top:852.5px;width:1200px;font-size:24.3px;line-height:24.3px;text-align:center;color:#111;">0.352</div>
<div class="t" style="left:2253.0px;top:852.5px;width:1200px;font-size:24.3px;line-height:24.3px;text-align:center;color:#111;">0.353</div>
<div class="t" style="left:2338.0px;top:852.5px;width:1200px;font-size:24.3px;line-height:24.3px;text-align:center;color:#111;">0.354</div>
<div class="t" style="left:2423.0px;top:852.5px;width:1200px;font-size:24.3px;line-height:24.3px;text-align:center;color:#111;">0.356</div>
<div class="t" style="left:2524.8px;top:1686.3px;width:1200px;font-size:30.4px;line-height:30.4px;text-align:left;color:#111;transform:scaleX(0.93);transform-origin:left center;">Didas</div>
<div class="r" style="left:2305px;top:1119px;width:800px;height:1px;background:#b4b4b4;"></div>
<div class="r" style="left:2305px;top:1151px;width:800px;height:1px;background:#b4b4b4;"></div>
<div class="r" style="left:2304px;top:1111px;width:2px;height:73px;background:#b4b4b4;"></div>
<div class="r" style="left:2587px;top:1111px;width:1px;height:73px;background:#b4b4b4;"></div>
<div class="r" style="left:2772px;top:1111px;width:1px;height:73px;background:#b4b4b4;"></div>
<div class="r" style="left:2969px;top:1111px;width:1px;height:73px;background:#b4b4b4;"></div>
<div class="r" style="left:3104px;top:1111px;width:2px;height:74px;background:#111;"></div>
<div class="t" style="left:2305px;top:1139.4px;font-size:33.5px;line-height:33.5px;color:#405ea0;"><b>Sezione:</b> Valore di aspettazione</div>
<div class="r" style="left:1884px;top:1191px;width:421px;height:32px;background:linear-gradient(to bottom,#eaf1fd,#b6cdf8);"></div>
<div class="r" style="left:1884px;top:1223px;width:421px;height:32px;background:linear-gradient(to bottom,#eaf1fd,#b6cdf8);"></div>
<div class="r" style="left:1884px;top:1254px;width:421px;height:34px;background:linear-gradient(to bottom,#eaf1fd,#b6cdf8);"></div>
<div class="r" style="left:1884px;top:1288px;width:421px;height:32px;background:linear-gradient(to bottom,#eaf1fd,#b6cdf8);"></div>
<div class="r" style="left:1884px;top:1320px;width:421px;height:32px;background:linear-gradient(to bottom,#eaf1fd,#b6cdf8);"></div>
<div class="r" style="left:1884px;top:1352px;width:421px;height:32px;background:linear-gradient(to bottom,#eaf1fd,#b6cdf8);"></div>
<div class="r" style="left:1884px;top:1384px;width:421px;height:32px;background:linear-gradient(to bottom,#eaf1fd,#b6cdf8);"></div>
<div class="r" style="left:1884px;top:1416px;width:421px;height:33px;background:linear-gradient(to bottom,#eaf1fd,#b6cdf8);"></div>
<div class="r" style="left:1884px;top:1449px;width:421px;height:32px;background:linear-gradient(to bottom,#eaf1fd,#b6cdf8);"></div>
<div class="r" style="left:1884px;top:1481px;width:421px;height:32px;background:linear-gradient(to bottom,#eaf1fd,#b6cdf8);"></div>
<div class="r" style="left:1884px;top:1513px;width:421px;height:33px;background:linear-gradient(to bottom,#eaf1fd,#b6cdf8);"></div>
<div class="r" style="left:1884px;top:1546px;width:421px;height:32px;background:linear-gradient(to bottom,#eaf1fd,#b6cdf8);"></div>
<div class="r" style="left:1884px;top:1578px;width:421px;height:32px;background:linear-gradient(to bottom,#eaf1fd,#b6cdf8);"></div>
<div class="r" style="left:1884px;top:1610px;width:421px;height:37px;background:linear-gradient(to bottom,#eaf1fd,#b6cdf8);"></div>
<div class="r" style="left:1884px;top:1647px;width:421px;height:39px;background:linear-gradient(to bottom,#eaf1fd,#b6cdf8);"></div>
<div class="r" style="left:1884px;top:1686px;width:421px;height:40px;background:linear-gradient(to bottom,#eaf1fd,#b6cdf8);"></div>
<div class="r" style="left:1884px;top:1726px;width:421px;height:39px;background:linear-gradient(to bottom,#eaf1fd,#b6cdf8);"></div>
<div class="r" style="left:1594px;top:1726px;width:711px;height:36px;background:linear-gradient(to bottom,#eaf1fd,#b6cdf8);"></div>
<div class="r" style="left:2588px;top:1191px;width:185px;height:32px;background:linear-gradient(to bottom,#fdf6ec,#f9e3bf);"></div>
<div class="r" style="left:2588px;top:1223px;width:185px;height:32px;background:linear-gradient(to bottom,#fdf6ec,#f9e3bf);"></div>
<div class="r" style="left:2588px;top:1254px;width:185px;height:34px;background:linear-gradient(to bottom,#fdf6ec,#f9e3bf);"></div>
<div class="r" style="left:2588px;top:1288px;width:185px;height:32px;background:linear-gradient(to bottom,#fdf6ec,#f9e3bf);"></div>
<div class="r" style="left:2588px;top:1320px;width:185px;height:32px;background:linear-gradient(to bottom,#fdf6ec,#f9e3bf);"></div>
<div class="r" style="left:2588px;top:1352px;width:185px;height:32px;background:linear-gradient(to bottom,#fdf6ec,#f9e3bf);"></div>
<div class="r" style="left:2588px;top:1384px;width:185px;height:32px;background:linear-gradient(to bottom,#fdf6ec,#f9e3bf);"></div>
<div class="r" style="left:2588px;top:1416px;width:185px;height:33px;background:linear-gradient(to bottom,#fdf6ec,#f9e3bf);"></div>
<div class="r" style="left:2588px;top:1449px;width:185px;height:32px;background:linear-gradient(to bottom,#fdf6ec,#f9e3bf);"></div>
<div class="r" style="left:2588px;top:1481px;width:185px;height:32px;background:linear-gradient(to bottom,#fdf6ec,#f9e3bf);"></div>
<div class="r" style="left:2588px;top:1513px;width:185px;height:33px;background:linear-gradient(to bottom,#fdf6ec,#f9e3bf);"></div>
<div class="r" style="left:2588px;top:1546px;width:185px;height:32px;background:linear-gradient(to bottom,#fdf6ec,#f9e3bf);"></div>
<div class="r" style="left:2588px;top:1578px;width:185px;height:32px;background:linear-gradient(to bottom,#fdf6ec,#f9e3bf);"></div>
<div class="r" style="left:2588px;top:1610px;width:185px;height:37px;background:linear-gradient(to bottom,#fdf6ec,#f9e3bf);"></div>
<div class="r" style="left:2588px;top:1647px;width:185px;height:39px;background:linear-gradient(to bottom,#fdf6ec,#f9e3bf);"></div>
<div class="r" style="left:2588px;top:1686px;width:185px;height:40px;background:linear-gradient(to bottom,#fdf6ec,#f9e3bf);"></div>
<div class="r" style="left:2588px;top:1726px;width:185px;height:39px;background:linear-gradient(to bottom,#fdf6ec,#f9e3bf);"></div>
<div class="r" style="left:2588px;top:1765px;width:185px;height:39px;background:linear-gradient(to bottom,#fdf6ec,#f9e3bf);"></div>
<div class="r" style="left:2309px;top:1765px;width:279px;height:35px;background:linear-gradient(to bottom,#fdf6ec,#f9e3bf);"></div>
<div class="r" style="left:2773px;top:1191px;width:197px;height:32px;background:linear-gradient(to bottom,#fcece8,#f4c5b7);"></div>
<div class="r" style="left:2773px;top:1223px;width:197px;height:32px;background:linear-gradient(to bottom,#fcece8,#f4c5b7);"></div>
<div class="r" style="left:2773px;top:1254px;width:197px;height:34px;background:linear-gradient(to bottom,#fcece8,#f4c5b7);"></div>
<div class="r" style="left:2773px;top:1288px;width:197px;height:32px;background:linear-gradient(to bottom,#fcece8,#f4c5b7);"></div>
<div class="r" style="left:2773px;top:1320px;width:197px;height:32px;background:linear-gradient(to bottom,#fcece8,#f4c5b7);"></div>
<div class="r" style="left:2773px;top:1352px;width:197px;height:32px;background:linear-gradient(to bottom,#fcece8,#f4c5b7);"></div>
<div class="r" style="left:2773px;top:1384px;width:197px;height:32px;background:linear-gradient(to bottom,#fcece8,#f4c5b7);"></div>
<div class="r" style="left:2773px;top:1416px;width:197px;height:33px;background:linear-gradient(to bottom,#fcece8,#f4c5b7);"></div>
<div class="r" style="left:2773px;top:1449px;width:197px;height:32px;background:linear-gradient(to bottom,#fcece8,#f4c5b7);"></div>
<div class="r" style="left:2773px;top:1481px;width:197px;height:32px;background:linear-gradient(to bottom,#fcece8,#f4c5b7);"></div>
<div class="r" style="left:2773px;top:1513px;width:197px;height:33px;background:linear-gradient(to bottom,#fcece8,#f4c5b7);"></div>
<div class="r" style="left:2773px;top:1546px;width:197px;height:32px;background:linear-gradient(to bottom,#fcece8,#f4c5b7);"></div>
<div class="r" style="left:2773px;top:1578px;width:197px;height:32px;background:linear-gradient(to bottom,#fcece8,#f4c5b7);"></div>
<div class="r" style="left:2773px;top:1610px;width:197px;height:37px;background:linear-gradient(to bottom,#fcece8,#f4c5b7);"></div>
<div class="r" style="left:2773px;top:1647px;width:197px;height:39px;background:linear-gradient(to bottom,#fcece8,#f4c5b7);"></div>
<div class="r" style="left:2773px;top:1686px;width:197px;height:40px;background:linear-gradient(to bottom,#fcece8,#f4c5b7);"></div>
<div class="r" style="left:2773px;top:1726px;width:197px;height:39px;background:linear-gradient(to bottom,#fcece8,#f4c5b7);"></div>
<div class="r" style="left:2773px;top:1765px;width:197px;height:39px;background:linear-gradient(to bottom,#fcece8,#f4c5b7);"></div>
<div class="r" style="left:2773px;top:1804px;width:197px;height:39px;background:linear-gradient(to bottom,#fcece8,#f4c5b7);"></div>
<div class="r" style="left:2591px;top:1804px;width:182px;height:35px;background:linear-gradient(to bottom,#fcece8,#f4c5b7);"></div>
<div class="r" style="left:2970px;top:1191px;width:135px;height:63px;background:linear-gradient(to bottom,#f3f3f3,#d8d8d8);"></div>
<div class="r" style="left:2970px;top:1254px;width:135px;height:34px;background:linear-gradient(to bottom,#f3f3f3,#d8d8d8);"></div>
<div class="r" style="left:2970px;top:1288px;width:135px;height:32px;background:linear-gradient(to bottom,#f3f3f3,#d8d8d8);"></div>
<div class="r" style="left:2970px;top:1320px;width:135px;height:32px;background:linear-gradient(to bottom,#f3f3f3,#d8d8d8);"></div>
<div class="r" style="left:2970px;top:1352px;width:135px;height:32px;background:linear-gradient(to bottom,#f3f3f3,#d8d8d8);"></div>
<div class="r" style="left:2970px;top:1384px;width:135px;height:32px;background:linear-gradient(to bottom,#f3f3f3,#d8d8d8);"></div>
<div class="r" style="left:2970px;top:1416px;width:135px;height:33px;background:linear-gradient(to bottom,#f3f3f3,#d8d8d8);"></div>
<div class="r" style="left:2970px;top:1449px;width:135px;height:32px;background:linear-gradient(to bottom,#f3f3f3,#d8d8d8);"></div>
<div class="r" style="left:2970px;top:1481px;width:135px;height:32px;background:linear-gradient(to bottom,#f3f3f3,#d8d8d8);"></div>
<div class="r" style="left:2970px;top:1513px;width:135px;height:33px;background:linear-gradient(to bottom,#f3f3f3,#d8d8d8);"></div>
<div class="r" style="left:2970px;top:1546px;width:135px;height:32px;background:linear-gradient(to bottom,#f3f3f3,#d8d8d8);"></div>
<div class="r" style="left:2970px;top:1578px;width:135px;height:32px;background:linear-gradient(to bottom,#f3f3f3,#d8d8d8);"></div>
<div class="r" style="left:2970px;top:1610px;width:135px;height:37px;background:linear-gradient(to bottom,#f3f3f3,#d8d8d8);"></div>
<div class="r" style="left:2970px;top:1647px;width:135px;height:39px;background:linear-gradient(to bottom,#f3f3f3,#d8d8d8);"></div>
<div class="r" style="left:2970px;top:1686px;width:135px;height:40px;background:linear-gradient(to bottom,#f3f3f3,#d8d8d8);"></div>
<div class="r" style="left:2970px;top:1726px;width:135px;height:39px;background:linear-gradient(to bottom,#f3f3f3,#d8d8d8);"></div>
<div class="r" style="left:2970px;top:1765px;width:135px;height:39px;background:linear-gradient(to bottom,#f3f3f3,#d8d8d8);"></div>
<div class="r" style="left:2970px;top:1804px;width:135px;height:39px;background:linear-gradient(to bottom,#f3f3f3,#d8d8d8);"></div>
<div class="r" style="left:2970px;top:1843px;width:135px;height:35px;background:linear-gradient(to bottom,#f3f3f3,#d8d8d8);"></div>
<div class="r" style="left:2970px;top:1878px;width:135px;height:33px;background:linear-gradient(to bottom,#f3f3f3,#d8d8d8);"></div>
<div class="r" style="left:3105px;top:1191px;width:132px;height:97px;background:linear-gradient(to bottom,#f3f3f3,#d8d8d8);"></div>
<div class="r" style="left:3105px;top:1288px;width:132px;height:32px;background:linear-gradient(to bottom,#f3f3f3,#d8d8d8);"></div>
<div class="r" style="left:3105px;top:1320px;width:132px;height:32px;background:linear-gradient(to bottom,#f3f3f3,#d8d8d8);"></div>
<div class="r" style="left:3105px;top:1352px;width:132px;height:32px;background:linear-gradient(to bottom,#f3f3f3,#d8d8d8);"></div>
<div class="r" style="left:3105px;top:1384px;width:132px;height:32px;background:linear-gradient(to bottom,#f3f3f3,#d8d8d8);"></div>
<div class="r" style="left:3105px;top:1416px;width:132px;height:33px;background:linear-gradient(to bottom,#f3f3f3,#d8d8d8);"></div>
<div class="r" style="left:3105px;top:1449px;width:132px;height:32px;background:linear-gradient(to bottom,#f3f3f3,#d8d8d8);"></div>
<div class="r" style="left:3105px;top:1481px;width:132px;height:32px;background:linear-gradient(to bottom,#f3f3f3,#d8d8d8);"></div>
<div class="r" style="left:3105px;top:1513px;width:132px;height:33px;background:linear-gradient(to bottom,#f3f3f3,#d8d8d8);"></div>
<div class="r" style="left:3105px;top:1546px;width:132px;height:32px;background:linear-gradient(to bottom,#f3f3f3,#d8d8d8);"></div>
<div class="r" style="left:3105px;top:1578px;width:132px;height:32px;background:linear-gradient(to bottom,#f3f3f3,#d8d8d8);"></div>
<div class="r" style="left:3105px;top:1610px;width:132px;height:37px;background:linear-gradient(to bottom,#f3f3f3,#d8d8d8);"></div>
<div class="r" style="left:3105px;top:1647px;width:132px;height:39px;background:linear-gradient(to bottom,#f3f3f3,#d8d8d8);"></div>
<div class="r" style="left:3105px;top:1686px;width:132px;height:40px;background:linear-gradient(to bottom,#f3f3f3,#d8d8d8);"></div>
<div class="r" style="left:3105px;top:1726px;width:132px;height:39px;background:linear-gradient(to bottom,#f3f3f3,#d8d8d8);"></div>
<div class="r" style="left:3105px;top:1765px;width:132px;height:39px;background:linear-gradient(to bottom,#f3f3f3,#d8d8d8);"></div>
<div class="r" style="left:3105px;top:1804px;width:132px;height:39px;background:linear-gradient(to bottom,#f3f3f3,#d8d8d8);"></div>
<div class="r" style="left:3105px;top:1843px;width:132px;height:35px;background:linear-gradient(to bottom,#f3f3f3,#d8d8d8);"></div>
<div class="r" style="left:3105px;top:1878px;width:132px;height:33px;background:linear-gradient(to bottom,#f3f3f3,#d8d8d8);"></div>
<div class="r" style="left:2776px;top:1843px;width:194px;height:68px;background:linear-gradient(to bottom,#f3f3f3,#d8d8d8);"></div>
<div class="r" style="left:3104.2px;top:1190.9px;width:0;height:719.7px;border-left:2px dotted #111;"></div>
<svg width="4362" height="2024" viewBox="0 0 4362 2024"><path d="M1880.5,1187.5 H3240.3 V1914 H2772.8 V1842.1 H2587.6 V1803.2 H2305.5 V1765.6 H1591.2 V1726.6 H1880.5 Z" fill="none" stroke="#e43122" stroke-width="6.6" stroke-linejoin="miter"/></svg>
<div class="t" style="left:1494.0px;top:1191.3px;width:1200px;font-size:23.7px;line-height:23.7px;text-align:center;color:#000;font-weight:bold;">Operatore proiezione</div>
<div class="t" style="left:1845.9px;top:1191.3px;width:1200px;font-size:23.7px;line-height:23.7px;text-align:center;color:#000;font-weight:bold;">Pesi probabilistici</div>
<div class="t" style="left:2080.0px;top:1191.3px;width:1200px;font-size:23.7px;line-height:23.7px;text-align:center;color:#000;font-weight:bold;">Variance</div>
<div class="t" style="left:2270.4px;top:1191.3px;width:1200px;font-size:23.7px;line-height:23.7px;text-align:center;color:#000;font-weight:bold;">S.D.</div>
<div class="t" style="left:2436.6px;top:1191.3px;width:1200px;font-size:23.7px;line-height:23.7px;text-align:center;color:#000;font-weight:bold;">Confidence</div>
<div class="t" style="left:2570.6px;top:1191.3px;width:1200px;font-size:23.7px;line-height:23.7px;text-align:center;color:#000;font-weight:bold;">Mean</div>
<div class="t" style="left:2436.9px;top:1224.4px;width:1200px;font-size:23.7px;line-height:23.7px;text-align:center;color:#2e6b1f;font-weight:bold;">level</div>
<div class="t" style="left:2570.6px;top:1224.4px;width:1200px;font-size:23.7px;line-height:23.7px;text-align:center;color:#2e6b1f;font-weight:bold;">+/-</div>
<div class="t" style="left:2570.6px;top:1256.4px;width:1200px;font-size:23.7px;line-height:23.7px;text-align:center;color:#9a5a1a;font-weight:bold;">SD</div>
<div class="t" style="left:1494.0px;top:1223.5px;width:1200px;font-size:23.7px;line-height:23.7px;text-align:center;color:#595959;font-weight:bold;">0,321</div>
<div class="t" style="left:1845.9px;top:1223.5px;width:1200px;font-size:23.7px;line-height:23.7px;text-align:center;color:#595959;font-weight:bold;">0,75%</div>
<div class="t" style="left:1494.0px;top:1320.6px;width:1200px;font-size:23.7px;line-height:23.7px;text-align:center;color:#595959;font-weight:bold;">0,007</div>
<div class="t" style="left:1845.9px;top:1320.6px;width:1200px;font-size:23.7px;line-height:23.7px;text-align:center;color:#595959;font-weight:bold;">0,05%</div>
<div class="t" style="left:1494.0px;top:1578.8px;width:1200px;font-size:23.7px;line-height:23.7px;text-align:center;color:#595959;font-weight:bold;">0,003</div>
<div class="t" style="left:1845.9px;top:1578.8px;width:1200px;font-size:23.7px;line-height:23.7px;text-align:center;color:#595959;font-weight:bold;">0,175%</div>
<div class="t" style="left:1494.0px;top:1652.4px;width:1200px;font-size:23.7px;line-height:23.7px;text-align:center;color:#595959;font-weight:bold;">0,017</div>
<div class="t" style="left:1845.9px;top:1652.4px;width:1200px;font-size:23.7px;line-height:23.7px;text-align:center;color:#595959;font-weight:bold;">0,025%</div>
<div class="t" style="left:1610.0px;top:1730.9px;width:1200px;font-size:23.7px;line-height:23.7px;text-align:left;color:#595959;font-weight:bold;">Valore Aspettazione</div>
<div class="t" style="left:1492.0px;top:1730.9px;width:1200px;font-size:23.7px;line-height:23.7px;text-align:center;color:#595959;font-weight:bold;">0,348</div>
<div class="t" style="left:1848.0px;top:1768.9px;width:1200px;font-size:23.7px;line-height:23.7px;text-align:center;color:#595959;font-weight:bold;">Varianza</div>
<div class="t" style="left:2079.6px;top:1769.9px;width:1200px;font-size:23.7px;line-height:23.7px;text-align:center;color:#595959;font-weight:bold;">0,007</div>
<div class="t" style="left:2081.0px;top:1808.9px;width:1200px;font-size:23.7px;line-height:23.7px;text-align:center;color:#595959;font-weight:bold;">Dev. Standard</div>
<div class="t" style="left:2271.2px;top:1808.9px;width:1200px;font-size:23.7px;line-height:23.7px;text-align:center;color:#595959;font-weight:bold;">0,08</div>
<div class="t" style="left:2436.4px;top:1845.9px;width:1200px;font-size:23.7px;line-height:23.7px;text-align:center;color:#595959;font-weight:bold;">0,346</div>
<div class="t" style="left:2570.6px;top:1845.9px;width:1200px;font-size:23.7px;line-height:23.7px;text-align:center;color:#595959;font-weight:bold;">0,263</div>
<div class="t" style="left:2436.4px;top:1878.9px;width:1200px;font-size:23.7px;line-height:23.7px;text-align:center;color:#595959;font-weight:bold;">0,353</div>
<div class="t" style="left:2570.6px;top:1878.9px;width:1200px;font-size:23.7px;line-height:23.7px;text-align:center;color:#595959;font-weight:bold;">0,516</div>
<div class="t" style="left:3663.4px;top:122.4px;font-size:33.5px;line-height:33.5px;color:#405ea0;transform:scaleX(0.98);transform-origin:left center;"><b>Sezione:</b> Indice NGF <i>vs</i> Indice |Psi&gt;</div>
<div class="r" style="left:3547px;top:244px;width:147px;height:979px;background:#c2e39b;"></div>
<div class="r" style="left:4118px;top:244px;width:186px;height:979px;background:#c2e39b;"></div>
<div class="r" style="left:3547px;top:1255px;width:147px;height:65px;background:#fdea9f;"></div>
<div class="r" style="left:4118px;top:1255px;width:186px;height:65px;background:#f0a794;"></div>
<div class="r" style="left:3547px;top:1352px;width:147px;height:226px;background:#fec7ce;"></div>
<div class="r" style="left:4118px;top:1352px;width:186px;height:226px;background:#f0a794;"></div>
<div class="r" style="left:3547px;top:1610px;width:147px;height:33px;background:#c2e39b;"></div>
<div class="r" style="left:4118px;top:1610px;width:186px;height:33px;background:#f0a794;"></div>
<div class="r" style="left:3264px;top:166px;width:1050px;height:10px;background:#5472c2;"></div>
<div class="r" style="left:3264px;top:166px;width:10px;height:78px;background:#5472c2;"></div>
<div class="r" style="left:3265px;top:244px;width:7px;height:1407px;background:#3f5b9c;"></div>
<div class="r" style="left:4304px;top:166px;width:10px;height:1485px;background:#5472c2;"></div>
<div class="r" style="left:3265px;top:1644px;width:429px;height:7px;background:#3f5b9c;"></div>
<div class="r" style="left:3694px;top:1643px;width:620px;height:8px;background:#5472c2;"></div>
<div class="t" style="left:2810.6px;top:176.0px;width:1200px;font-size:23.7px;line-height:23.7px;text-align:center;color:#000;font-weight:bold;">Diagnosi RDC</div>
<div class="t" style="left:3020.8px;top:176.0px;width:1200px;font-size:23.7px;line-height:23.7px;text-align:center;color:#000;font-weight:bold;">INDICE NGF</div>
<div class="t" style="left:3305.3px;top:176.0px;width:1200px;font-size:23.7px;line-height:23.7px;text-align:center;color:#000;font-weight:bold;">Diagnosi a posteriori</div>
<div class="t" style="left:3611.0px;top:176.0px;width:1200px;font-size:23.7px;line-height:23.7px;text-align:center;color:#000;font-weight:bold;">INDICE |Psi&gt;</div>
<div class="t" style="left:2808.2px;top:247.1px;width:1200px;font-size:24px;line-height:24px;text-align:center;color:#595959;">Sano</div>
<div class="t" style="left:3020.0px;top:248.3px;width:1200px;font-size:23.7px;line-height:23.7px;text-align:center;color:#000;font-weight:bold;">0,359</div>
<div class="t" style="left:3305.1px;top:247.1px;width:1200px;font-size:24px;line-height:24px;text-align:center;color:#595959;">Sano</div>
<div class="t" style="left:3611.0px;top:247.1px;width:1200px;font-size:24px;line-height:24px;text-align:center;color:#000;">0,38</div>
<div class="t" style="left:2808.2px;top:279.4px;width:1200px;font-size:24px;line-height:24px;text-align:center;color:#595959;">Sano</div>
<div class="t" style="left:3020.0px;top:280.6px;width:1200px;font-size:23.7px;line-height:23.7px;text-align:center;color:#000;font-weight:bold;">0,393</div>
<div class="t" style="left:3305.1px;top:279.4px;width:1200px;font-size:24px;line-height:24px;text-align:center;color:#595959;">Sano</div>
<div class="t" style="left:3611.0px;top:279.4px;width:1200px;font-size:24px;line-height:24px;text-align:center;color:#000;">0,43</div>
<div class="t" style="left:2808.2px;top:311.7px;width:1200px;font-size:24px;line-height:24px;text-align:center;color:#595959;">Sano</div>
<div class="t" style="left:3020.0px;top:312.9px;width:1200px;font-size:23.7px;line-height:23.7px;text-align:center;color:#000;font-weight:bold;">0,360</div>
<div class="t" style="left:3305.1px;top:311.7px;width:1200px;font-size:24px;line-height:24px;text-align:center;color:#595959;">Sano</div>
<div class="t" style="left:3611.0px;top:311.7px;width:1200px;font-size:24px;line-height:24px;text-align:center;color:#000;">0,36</div>
<div class="t" style="left:2808.2px;top:344.0px;width:1200px;font-size:24px;line-height:24px;text-align:center;color:#595959;">Sano</div>
<div class="t" style="left:3020.0px;top:345.2px;width:1200px;font-size:23.7px;line-height:23.7px;text-align:center;color:#000;font-weight:bold;">0,554</div>
<div class="t" style="left:3305.1px;top:344.0px;width:1200px;font-size:24px;line-height:24px;text-align:center;color:#595959;">Sano</div>
<div class="t" style="left:3611.0px;top:344.0px;width:1200px;font-size:24px;line-height:24px;text-align:center;color:#000;">0,45</div>
<div class="t" style="left:2808.2px;top:376.3px;width:1200px;font-size:24px;line-height:24px;text-align:center;color:#595959;">Sano</div>
<div class="t" style="left:3020.0px;top:377.5px;width:1200px;font-size:23.7px;line-height:23.7px;text-align:center;color:#000;font-weight:bold;">0,256</div>
<div class="t" style="left:3305.1px;top:376.3px;width:1200px;font-size:24px;line-height:24px;text-align:center;color:#595959;">Sano</div>
<div class="t" style="left:3611.0px;top:376.3px;width:1200px;font-size:24px;line-height:24px;text-align:center;color:#000;">0,32</div>
<div class="t" style="left:2808.2px;top:408.6px;width:1200px;font-size:24px;line-height:24px;text-align:center;color:#595959;">Sano</div>
<div class="t" style="left:3020.0px;top:409.8px;width:1200px;font-size:23.7px;line-height:23.7px;text-align:center;color:#000;font-weight:bold;">0,468</div>
<div class="t" style="left:3305.1px;top:408.6px;width:1200px;font-size:24px;line-height:24px;text-align:center;color:#595959;">Sano</div>
<div class="t" style="left:3611.0px;top:408.6px;width:1200px;font-size:24px;line-height:24px;text-align:center;color:#000;">0,51</div>
<div class="t" style="left:2808.2px;top:440.9px;width:1200px;font-size:24px;line-height:24px;text-align:center;color:#595959;">Sano</div>
<div class="t" style="left:3020.0px;top:442.1px;width:1200px;font-size:23.7px;line-height:23.7px;text-align:center;color:#000;font-weight:bold;">0,268</div>
<div class="t" style="left:3305.1px;top:440.9px;width:1200px;font-size:24px;line-height:24px;text-align:center;color:#595959;">Sano</div>
<div class="t" style="left:3611.0px;top:440.9px;width:1200px;font-size:24px;line-height:24px;text-align:center;color:#000;">0,30</div>
<div class="t" style="left:2808.2px;top:473.2px;width:1200px;font-size:24px;line-height:24px;text-align:center;color:#595959;">Sano</div>
<div class="t" style="left:3020.0px;top:474.4px;width:1200px;font-size:23.7px;line-height:23.7px;text-align:center;color:#000;font-weight:bold;">0,481</div>
<div class="t" style="left:3305.1px;top:473.2px;width:1200px;font-size:24px;line-height:24px;text-align:center;color:#595959;">Sano</div>
<div class="t" style="left:3611.0px;top:473.2px;width:1200px;font-size:24px;line-height:24px;text-align:center;color:#000;">0,47</div>
<div class="t" style="left:2808.2px;top:505.5px;width:1200px;font-size:24px;line-height:24px;text-align:center;color:#595959;">Sano</div>
<div class="t" style="left:3020.0px;top:506.7px;width:1200px;font-size:23.7px;line-height:23.7px;text-align:center;color:#000;font-weight:bold;">0,343</div>
<div class="t" style="left:3305.1px;top:505.5px;width:1200px;font-size:24px;line-height:24px;text-align:center;color:#595959;">Sano</div>
<div class="t" style="left:3611.0px;top:505.5px;width:1200px;font-size:24px;line-height:24px;text-align:center;color:#000;">0,39</div>
<div class="t" style="left:2808.2px;top:537.8px;width:1200px;font-size:24px;line-height:24px;text-align:center;color:#595959;">Sano</div>
<div class="t" style="left:3020.0px;top:539.0px;width:1200px;font-size:23.7px;line-height:23.7px;text-align:center;color:#000;font-weight:bold;">0,303</div>
<div class="t" style="left:3305.1px;top:537.8px;width:1200px;font-size:24px;line-height:24px;text-align:center;color:#595959;">Sano</div>
<div class="t" style="left:3611.0px;top:537.8px;width:1200px;font-size:24px;line-height:24px;text-align:center;color:#000;">0,42</div>
<div class="t" style="left:2808.2px;top:570.1px;width:1200px;font-size:24px;line-height:24px;text-align:center;color:#595959;">Sano</div>
<div class="t" style="left:3020.0px;top:571.3px;width:1200px;font-size:23.7px;line-height:23.7px;text-align:center;color:#000;font-weight:bold;">0,457</div>
<div class="t" style="left:3305.1px;top:570.1px;width:1200px;font-size:24px;line-height:24px;text-align:center;color:#595959;">Sano</div>
<div class="t" style="left:3611.0px;top:570.1px;width:1200px;font-size:24px;line-height:24px;text-align:center;color:#000;">0,46</div>
<div class="t" style="left:2808.2px;top:602.4px;width:1200px;font-size:24px;line-height:24px;text-align:center;color:#595959;">Sano</div>
<div class="t" style="left:3020.0px;top:603.6px;width:1200px;font-size:23.7px;line-height:23.7px;text-align:center;color:#000;font-weight:bold;">0,373</div>
<div class="t" style="left:3305.1px;top:602.4px;width:1200px;font-size:24px;line-height:24px;text-align:center;color:#595959;">Sano</div>
<div class="t" style="left:3611.0px;top:602.4px;width:1200px;font-size:24px;line-height:24px;text-align:center;color:#000;">0,45</div>
<div class="t" style="left:2808.2px;top:634.7px;width:1200px;font-size:24px;line-height:24px;text-align:center;color:#595959;">Sano</div>
<div class="t" style="left:3020.0px;top:635.9px;width:1200px;font-size:23.7px;line-height:23.7px;text-align:center;color:#000;font-weight:bold;">0,343</div>
<div class="t" style="left:3305.1px;top:634.7px;width:1200px;font-size:24px;line-height:24px;text-align:center;color:#595959;">Sano</div>
<div class="t" style="left:3611.0px;top:634.7px;width:1200px;font-size:24px;line-height:24px;text-align:center;color:#000;">0,45</div>
<div class="t" style="left:2808.2px;top:667.0px;width:1200px;font-size:24px;line-height:24px;text-align:center;color:#595959;">Sano</div>
<div class="t" style="left:3020.0px;top:668.2px;width:1200px;font-size:23.7px;line-height:23.7px;text-align:center;color:#000;font-weight:bold;">0,246</div>
<div class="t" style="left:3305.1px;top:667.0px;width:1200px;font-size:24px;line-height:24px;text-align:center;color:#595959;">Sano</div>
<div class="t" style="left:3611.0px;top:667.0px;width:1200px;font-size:24px;line-height:24px;text-align:center;color:#000;">0,30</div>
<div class="t" style="left:2808.2px;top:699.3px;width:1200px;font-size:24px;line-height:24px;text-align:center;color:#595959;">Sano</div>
<div class="t" style="left:3020.0px;top:700.5px;width:1200px;font-size:23.7px;line-height:23.7px;text-align:center;color:#000;font-weight:bold;">0,406</div>
<div class="t" style="left:3305.1px;top:699.3px;width:1200px;font-size:24px;line-height:24px;text-align:center;color:#595959;">Sano</div>
<div class="t" style="left:3611.0px;top:699.3px;width:1200px;font-size:24px;line-height:24px;text-align:center;color:#000;">0,50</div>
<div class="t" style="left:2808.2px;top:731.6px;width:1200px;font-size:24px;line-height:24px;text-align:center;color:#595959;">Sano</div>
<div class="t" style="left:3020.0px;top:732.8px;width:1200px;font-size:23.7px;line-height:23.7px;text-align:center;color:#000;font-weight:bold;">0,516</div>
<div class="t" style="left:3305.1px;top:731.6px;width:1200px;font-size:24px;line-height:24px;text-align:center;color:#595959;">Sano</div>
<div class="t" style="left:3611.0px;top:731.6px;width:1200px;font-size:24px;line-height:24px;text-align:center;color:#000;">0,42</div>
<div class="t" style="left:2808.2px;top:763.9px;width:1200px;font-size:24px;line-height:24px;text-align:center;color:#595959;">Sano</div>
<div class="t" style="left:3020.0px;top:765.1px;width:1200px;font-size:23.7px;line-height:23.7px;text-align:center;color:#000;font-weight:bold;">0,568</div>
<div class="t" style="left:3305.1px;top:763.9px;width:1200px;font-size:24px;line-height:24px;text-align:center;color:#595959;">Sano</div>
<div class="t" style="left:3611.0px;top:763.9px;width:1200px;font-size:24px;line-height:24px;text-align:center;color:#000;">0,48</div>
<div class="t" style="left:2808.2px;top:796.2px;width:1200px;font-size:24px;line-height:24px;text-align:center;color:#595959;">Sano</div>
<div class="t" style="left:3020.0px;top:797.4px;width:1200px;font-size:23.7px;line-height:23.7px;text-align:center;color:#000;font-weight:bold;">0,653</div>
<div class="t" style="left:3305.1px;top:796.2px;width:1200px;font-size:24px;line-height:24px;text-align:center;color:#595959;">Sano</div>
<div class="t" style="left:3611.0px;top:796.2px;width:1200px;font-size:24px;line-height:24px;text-align:center;color:#000;">0,48</div>
<div class="t" style="left:2808.2px;top:828.5px;width:1200px;font-size:24px;line-height:24px;text-align:center;color:#595959;">Sano</div>
<div class="t" style="left:3020.0px;top:829.7px;width:1200px;font-size:23.7px;line-height:23.7px;text-align:center;color:#000;font-weight:bold;">0,333</div>
<div class="t" style="left:3305.1px;top:828.5px;width:1200px;font-size:24px;line-height:24px;text-align:center;color:#595959;">Sano</div>
<div class="t" style="left:3611.0px;top:828.5px;width:1200px;font-size:24px;line-height:24px;text-align:center;color:#000;">0,47</div>
<div class="t" style="left:2808.2px;top:860.8px;width:1200px;font-size:24px;line-height:24px;text-align:center;color:#595959;">Sano</div>
<div class="t" style="left:3020.0px;top:862.0px;width:1200px;font-size:23.7px;line-height:23.7px;text-align:center;color:#000;font-weight:bold;">0,379</div>
<div class="t" style="left:3305.1px;top:860.8px;width:1200px;font-size:24px;line-height:24px;text-align:center;color:#595959;">Sano</div>
<div class="t" style="left:3611.0px;top:860.8px;width:1200px;font-size:24px;line-height:24px;text-align:center;color:#000;">0,37</div>
<div class="t" style="left:2808.2px;top:893.1px;width:1200px;font-size:24px;line-height:24px;text-align:center;color:#595959;">Sano</div>
<div class="t" style="left:3020.0px;top:894.3px;width:1200px;font-size:23.7px;line-height:23.7px;text-align:center;color:#000;font-weight:bold;">0,355</div>
<div class="t" style="left:3305.1px;top:893.1px;width:1200px;font-size:24px;line-height:24px;text-align:center;color:#595959;">Sano</div>
<div class="t" style="left:3611.0px;top:893.1px;width:1200px;font-size:24px;line-height:24px;text-align:center;color:#000;">0,42</div>
<div class="t" style="left:2808.2px;top:925.4px;width:1200px;font-size:24px;line-height:24px;text-align:center;color:#595959;">Sano</div>
<div class="t" style="left:3020.0px;top:926.6px;width:1200px;font-size:23.7px;line-height:23.7px;text-align:center;color:#000;font-weight:bold;">0,195</div>
<div class="t" style="left:3305.1px;top:925.4px;width:1200px;font-size:24px;line-height:24px;text-align:center;color:#595959;">Sano</div>
<div class="t" style="left:3611.0px;top:925.4px;width:1200px;font-size:24px;line-height:24px;text-align:center;color:#000;">0,27</div>
<div class="t" style="left:2808.2px;top:957.7px;width:1200px;font-size:24px;line-height:24px;text-align:center;color:#595959;">Sano</div>
<div class="t" style="left:3020.0px;top:958.9px;width:1200px;font-size:23.7px;line-height:23.7px;text-align:center;color:#000;font-weight:bold;">0,566</div>
<div class="t" style="left:3305.1px;top:957.7px;width:1200px;font-size:24px;line-height:24px;text-align:center;color:#595959;">Sano</div>
<div class="t" style="left:3611.0px;top:957.7px;width:1200px;font-size:24px;line-height:24px;text-align:center;color:#000;">0,46</div>
<div class="t" style="left:2808.2px;top:990.0px;width:1200px;font-size:24px;line-height:24px;text-align:center;color:#595959;">Sano</div>
<div class="t" style="left:3020.0px;top:991.2px;width:1200px;font-size:23.7px;line-height:23.7px;text-align:center;color:#000;font-weight:bold;">0,616</div>
<div class="t" style="left:3305.1px;top:990.0px;width:1200px;font-size:24px;line-height:24px;text-align:center;color:#595959;">Sano</div>
<div class="t" style="left:3611.0px;top:990.0px;width:1200px;font-size:24px;line-height:24px;text-align:center;color:#000;">0,51</div>
<div class="t" style="left:2808.2px;top:1022.3px;width:1200px;font-size:24px;line-height:24px;text-align:center;color:#595959;">Sano</div>
<div class="t" style="left:3020.0px;top:1023.5px;width:1200px;font-size:23.7px;line-height:23.7px;text-align:center;color:#000;font-weight:bold;">0,497</div>
<div class="t" style="left:3305.1px;top:1022.3px;width:1200px;font-size:24px;line-height:24px;text-align:center;color:#595959;">Sano</div>
<div class="t" style="left:3611.0px;top:1022.3px;width:1200px;font-size:24px;line-height:24px;text-align:center;color:#000;">0,43</div>
<div class="t" style="left:2808.2px;top:1054.6px;width:1200px;font-size:24px;line-height:24px;text-align:center;color:#595959;">Sano</div>
<div class="t" style="left:3020.0px;top:1055.8px;width:1200px;font-size:23.7px;line-height:23.7px;text-align:center;color:#000;font-weight:bold;">0,326</div>
<div class="t" style="left:3305.1px;top:1054.6px;width:1200px;font-size:24px;line-height:24px;text-align:center;color:#595959;">Sano</div>
<div class="t" style="left:3611.0px;top:1054.6px;width:1200px;font-size:24px;line-height:24px;text-align:center;color:#000;">0,41</div>
<div class="t" style="left:2808.2px;top:1086.9px;width:1200px;font-size:24px;line-height:24px;text-align:center;color:#595959;">Sano</div>
<div class="t" style="left:3020.0px;top:1088.1px;width:1200px;font-size:23.7px;line-height:23.7px;text-align:center;color:#000;font-weight:bold;">0,497</div>
<div class="t" style="left:3305.1px;top:1086.9px;width:1200px;font-size:24px;line-height:24px;text-align:center;color:#595959;">Sano</div>
<div class="t" style="left:3611.0px;top:1086.9px;width:1200px;font-size:24px;line-height:24px;text-align:center;color:#000;">0,47</div>
<div class="t" style="left:2808.2px;top:1119.2px;width:1200px;font-size:24px;line-height:24px;text-align:center;color:#595959;">Sano</div>
<div class="t" style="left:3020.0px;top:1120.4px;width:1200px;font-size:23.7px;line-height:23.7px;text-align:center;color:#000;font-weight:bold;">0,495</div>
<div class="t" style="left:3305.1px;top:1119.2px;width:1200px;font-size:24px;line-height:24px;text-align:center;color:#595959;">Sano</div>
<div class="t" style="left:3611.0px;top:1119.2px;width:1200px;font-size:24px;line-height:24px;text-align:center;color:#000;">0,46</div>
<div class="t" style="left:2808.2px;top:1154.7px;width:1200px;font-size:24px;line-height:24px;text-align:center;color:#595959;">Sano</div>
<div class="t" style="left:3020.0px;top:1155.9px;width:1200px;font-size:23.7px;line-height:23.7px;text-align:center;color:#000;font-weight:bold;">0,365</div>
<div class="t" style="left:3305.1px;top:1154.7px;width:1200px;font-size:24px;line-height:24px;text-align:center;color:#595959;">Sano</div>
<div class="t" style="left:3611.0px;top:1154.7px;width:1200px;font-size:24px;line-height:24px;text-align:center;color:#000;">0,51</div>
<div class="t" style="left:2808.2px;top:1190.7px;width:1200px;font-size:24px;line-height:24px;text-align:center;color:#595959;">Sano</div>
<div class="t" style="left:3020.0px;top:1191.9px;width:1200px;font-size:23.7px;line-height:23.7px;text-align:center;color:#000;font-weight:bold;">0,436</div>
<div class="t" style="left:3305.1px;top:1190.7px;width:1200px;font-size:24px;line-height:24px;text-align:center;color:#595959;">Sano</div>
<div class="t" style="left:3611.0px;top:1190.7px;width:1200px;font-size:24px;line-height:24px;text-align:center;color:#000;">0,48</div>
<div class="t" style="left:2808.0px;top:1223.5px;width:1200px;font-size:23.7px;line-height:23.7px;text-align:center;color:#595959;font-weight:bold;">Sintomatici</div>
<div class="t" style="left:2808.2px;top:1255.4px;width:1200px;font-size:24px;line-height:24px;text-align:center;color:#595959;">TMDs</div>
<div class="t" style="left:3020.0px;top:1256.6px;width:1200px;font-size:23.7px;line-height:23.7px;text-align:center;color:#8c5a1a;font-weight:bold;">0,074</div>
<div class="t" style="left:3305.1px;top:1255.4px;width:1200px;font-size:24px;line-height:24px;text-align:center;color:#595959;">Functional disturb ( TMDs)</div>
<div class="t" style="left:3611.0px;top:1255.4px;width:1200px;font-size:24px;line-height:24px;text-align:center;color:#000;">0,11</div>
<div class="t" style="left:2808.2px;top:1287.5px;width:1200px;font-size:24px;line-height:24px;text-align:center;color:#595959;">TMDs</div>
<div class="t" style="left:3020.0px;top:1288.7px;width:1200px;font-size:23.7px;line-height:23.7px;text-align:center;color:#8c5a1a;font-weight:bold;">0,082</div>
<div class="t" style="left:3305.1px;top:1287.5px;width:1200px;font-size:24px;line-height:24px;text-align:center;color:#595959;">Functional disturb ( TMDs)</div>
<div class="t" style="left:3611.0px;top:1287.5px;width:1200px;font-size:24px;line-height:24px;text-align:center;color:#000;">0,18</div>
<div class="t" style="left:2808.2px;top:1351.8px;width:1200px;font-size:24px;line-height:24px;text-align:center;color:#595959;">TMDs</div>
<div class="t" style="left:3020.0px;top:1353.0px;width:1200px;font-size:23.7px;line-height:23.7px;text-align:center;color:#9c0006;font-weight:bold;">0,021</div>
<div class="t" style="left:3305.1px;top:1351.8px;width:1200px;font-size:24px;line-height:24px;text-align:center;color:#595959;">Organic lesion (tumor)</div>
<div class="t" style="left:3611.0px;top:1351.8px;width:1200px;font-size:24px;line-height:24px;text-align:center;color:#000;">0,04</div>
<div class="t" style="left:2808.2px;top:1384.1px;width:1200px;font-size:24px;line-height:24px;text-align:center;color:#595959;">TMDs</div>
<div class="t" style="left:3020.0px;top:1385.3px;width:1200px;font-size:23.7px;line-height:23.7px;text-align:center;color:#9c0006;font-weight:bold;">0,000</div>
<div class="t" style="left:3305.1px;top:1384.1px;width:1200px;font-size:24px;line-height:24px;text-align:center;color:#595959;">Functional disturb ( TMDs)</div>
<div class="t" style="left:3611.0px;top:1384.1px;width:1200px;font-size:24px;line-height:24px;text-align:center;color:#000;">0,00</div>
<div class="t" style="left:2808.2px;top:1416.4px;width:1200px;font-size:24px;line-height:24px;text-align:center;color:#595959;">TMDs</div>
<div class="t" style="left:3020.0px;top:1417.6px;width:1200px;font-size:23.7px;line-height:23.7px;text-align:center;color:#9c0006;font-weight:bold;">0,000</div>
<div class="t" style="left:3305.1px;top:1416.4px;width:1200px;font-size:24px;line-height:24px;text-align:center;color:#595959;">Functional disturb ( TMDs)</div>
<div class="t" style="left:3611.0px;top:1416.4px;width:1200px;font-size:24px;line-height:24px;text-align:center;color:#000;">0,00</div>
<div class="t" style="left:2808.2px;top:1448.7px;width:1200px;font-size:24px;line-height:24px;text-align:center;color:#595959;">TMDs</div>
<div class="t" style="left:3020.0px;top:1449.9px;width:1200px;font-size:23.7px;line-height:23.7px;text-align:center;color:#9c0006;font-weight:bold;">0,006</div>
<div class="t" style="left:3305.1px;top:1448.7px;width:1200px;font-size:24px;line-height:24px;text-align:center;color:#595959;">Organic lesion (neurophaty)</div>
<div class="t" style="left:3611.0px;top:1448.7px;width:1200px;font-size:24px;line-height:24px;text-align:center;color:#000;">0,01</div>
<div class="t" style="left:2808.2px;top:1481.0px;width:1200px;font-size:24px;line-height:24px;text-align:center;color:#595959;">TMDs</div>
<div class="t" style="left:3020.0px;top:1482.2px;width:1200px;font-size:23.7px;line-height:23.7px;text-align:center;color:#9c0006;font-weight:bold;">0,000</div>
<div class="t" style="left:3305.1px;top:1481.0px;width:1200px;font-size:24px;line-height:24px;text-align:center;color:#595959;">Organic lesion (sclerodermia)</div>
<div class="t" style="left:3611.0px;top:1481.0px;width:1200px;font-size:24px;line-height:24px;text-align:center;color:#000;">0,00</div>
<div class="t" style="left:2808.2px;top:1513.3px;width:1200px;font-size:24px;line-height:24px;text-align:center;color:#595959;">TMDs</div>
<div class="t" style="left:3020.0px;top:1514.5px;width:1200px;font-size:23.7px;line-height:23.7px;text-align:center;color:#9c0006;font-weight:bold;">0,000</div>
<div class="t" style="left:3305.1px;top:1513.3px;width:1200px;font-size:24px;line-height:24px;text-align:center;color:#595959;">Cavernoma pineale</div>
<div class="t" style="left:3611.0px;top:1513.3px;width:1200px;font-size:24px;line-height:24px;text-align:center;color:#000;">0,06</div>
<div class="t" style="left:2808.2px;top:1545.6px;width:1200px;font-size:24px;line-height:24px;text-align:center;color:#595959;">TMDs</div>
<div class="t" style="left:3020.0px;top:1546.8px;width:1200px;font-size:23.7px;line-height:23.7px;text-align:center;color:#9c0006;font-weight:bold;">0,002</div>
<div class="t" style="left:3305.1px;top:1545.6px;width:1200px;font-size:24px;line-height:24px;text-align:center;color:#595959;">Functional disturb ( TMDs)</div>
<div class="t" style="left:3611.0px;top:1545.6px;width:1200px;font-size:24px;line-height:24px;text-align:center;color:#000;">0,01</div>
<div class="t" style="left:2808.2px;top:1610.5px;width:1200px;font-size:24px;line-height:24px;text-align:center;color:#595959;">TMDs</div>
<div class="t" style="left:3020.0px;top:1611.7px;width:1200px;font-size:23.7px;line-height:23.7px;text-align:center;color:#000;font-weight:bold;">0,319</div>
<div class="t" style="left:3305.1px;top:1610.5px;width:1200px;font-size:24px;line-height:24px;text-align:center;color:#595959;">Organic lesion ( cerebral neoplasm)</div>
<div class="t" style="left:3611.0px;top:1610.5px;width:1200px;font-size:24px;line-height:24px;text-align:center;color:#000;">0,66</div>
<div class="t" style="left:3173.4px;top:1750.2px;width:1200px;font-size:34.9px;line-height:34.9px;text-align:center;color:#000;">Range classificazione sani/malati</div>
<div class="r" style="left:3448px;top:1790px;width:174px;height:34px;background:#f1a998;"></div>
<div class="r" style="left:3622px;top:1790px;width:245px;height:34px;background:#cdeccf;"></div>
<div class="r" style="left:3867px;top:1790px;width:233px;height:34px;background:#f1a998;"></div>
<div class="r" style="left:3447.1px;top:1789.2px;width:653.6px;height:69.1px;box-sizing:border-box;border:2.2px solid #000;"></div>
<div class="r" style="left:3447px;top:1823px;width:654px;height:2px;background:#000;"></div>
<div class="r" style="left:3621px;top:1789px;width:2px;height:69px;background:#000;"></div>
<div class="r" style="left:3866px;top:1789px;width:2px;height:69px;background:#000;"></div>
<div class="t" style="left:2934.6px;top:1792.4px;width:1200px;font-size:23.7px;line-height:23.7px;text-align:center;color:#000;font-weight:bold;">0-SET (malati)</div>
<div class="t" style="left:3144.4px;top:1792.4px;width:1200px;font-size:23.7px;line-height:23.7px;text-align:center;color:#2e6b1f;font-weight:bold;">CORE SET (sani)</div>
<div class="t" style="left:3382.2px;top:1792.4px;width:1200px;font-size:23.7px;line-height:23.7px;text-align:center;color:#000;font-weight:bold;">0-SET&nbsp; (malati)</div>
<div class="t" style="left:2934.6px;top:1823.8px;width:1200px;font-size:24px;line-height:24px;text-align:center;color:#000;">P2 &lt; 0,263</div>
<div class="t" style="left:3143.9px;top:1823.8px;width:1200px;font-size:24px;line-height:24px;text-align:center;color:#000;">0,516 &gt; P3.&gt; 0,263</div>
<div class="t" style="left:3383.0px;top:1823.8px;width:1200px;font-size:24px;line-height:24px;text-align:center;color:#000;">P1 &gt; 0,516</div>
</body></html>
